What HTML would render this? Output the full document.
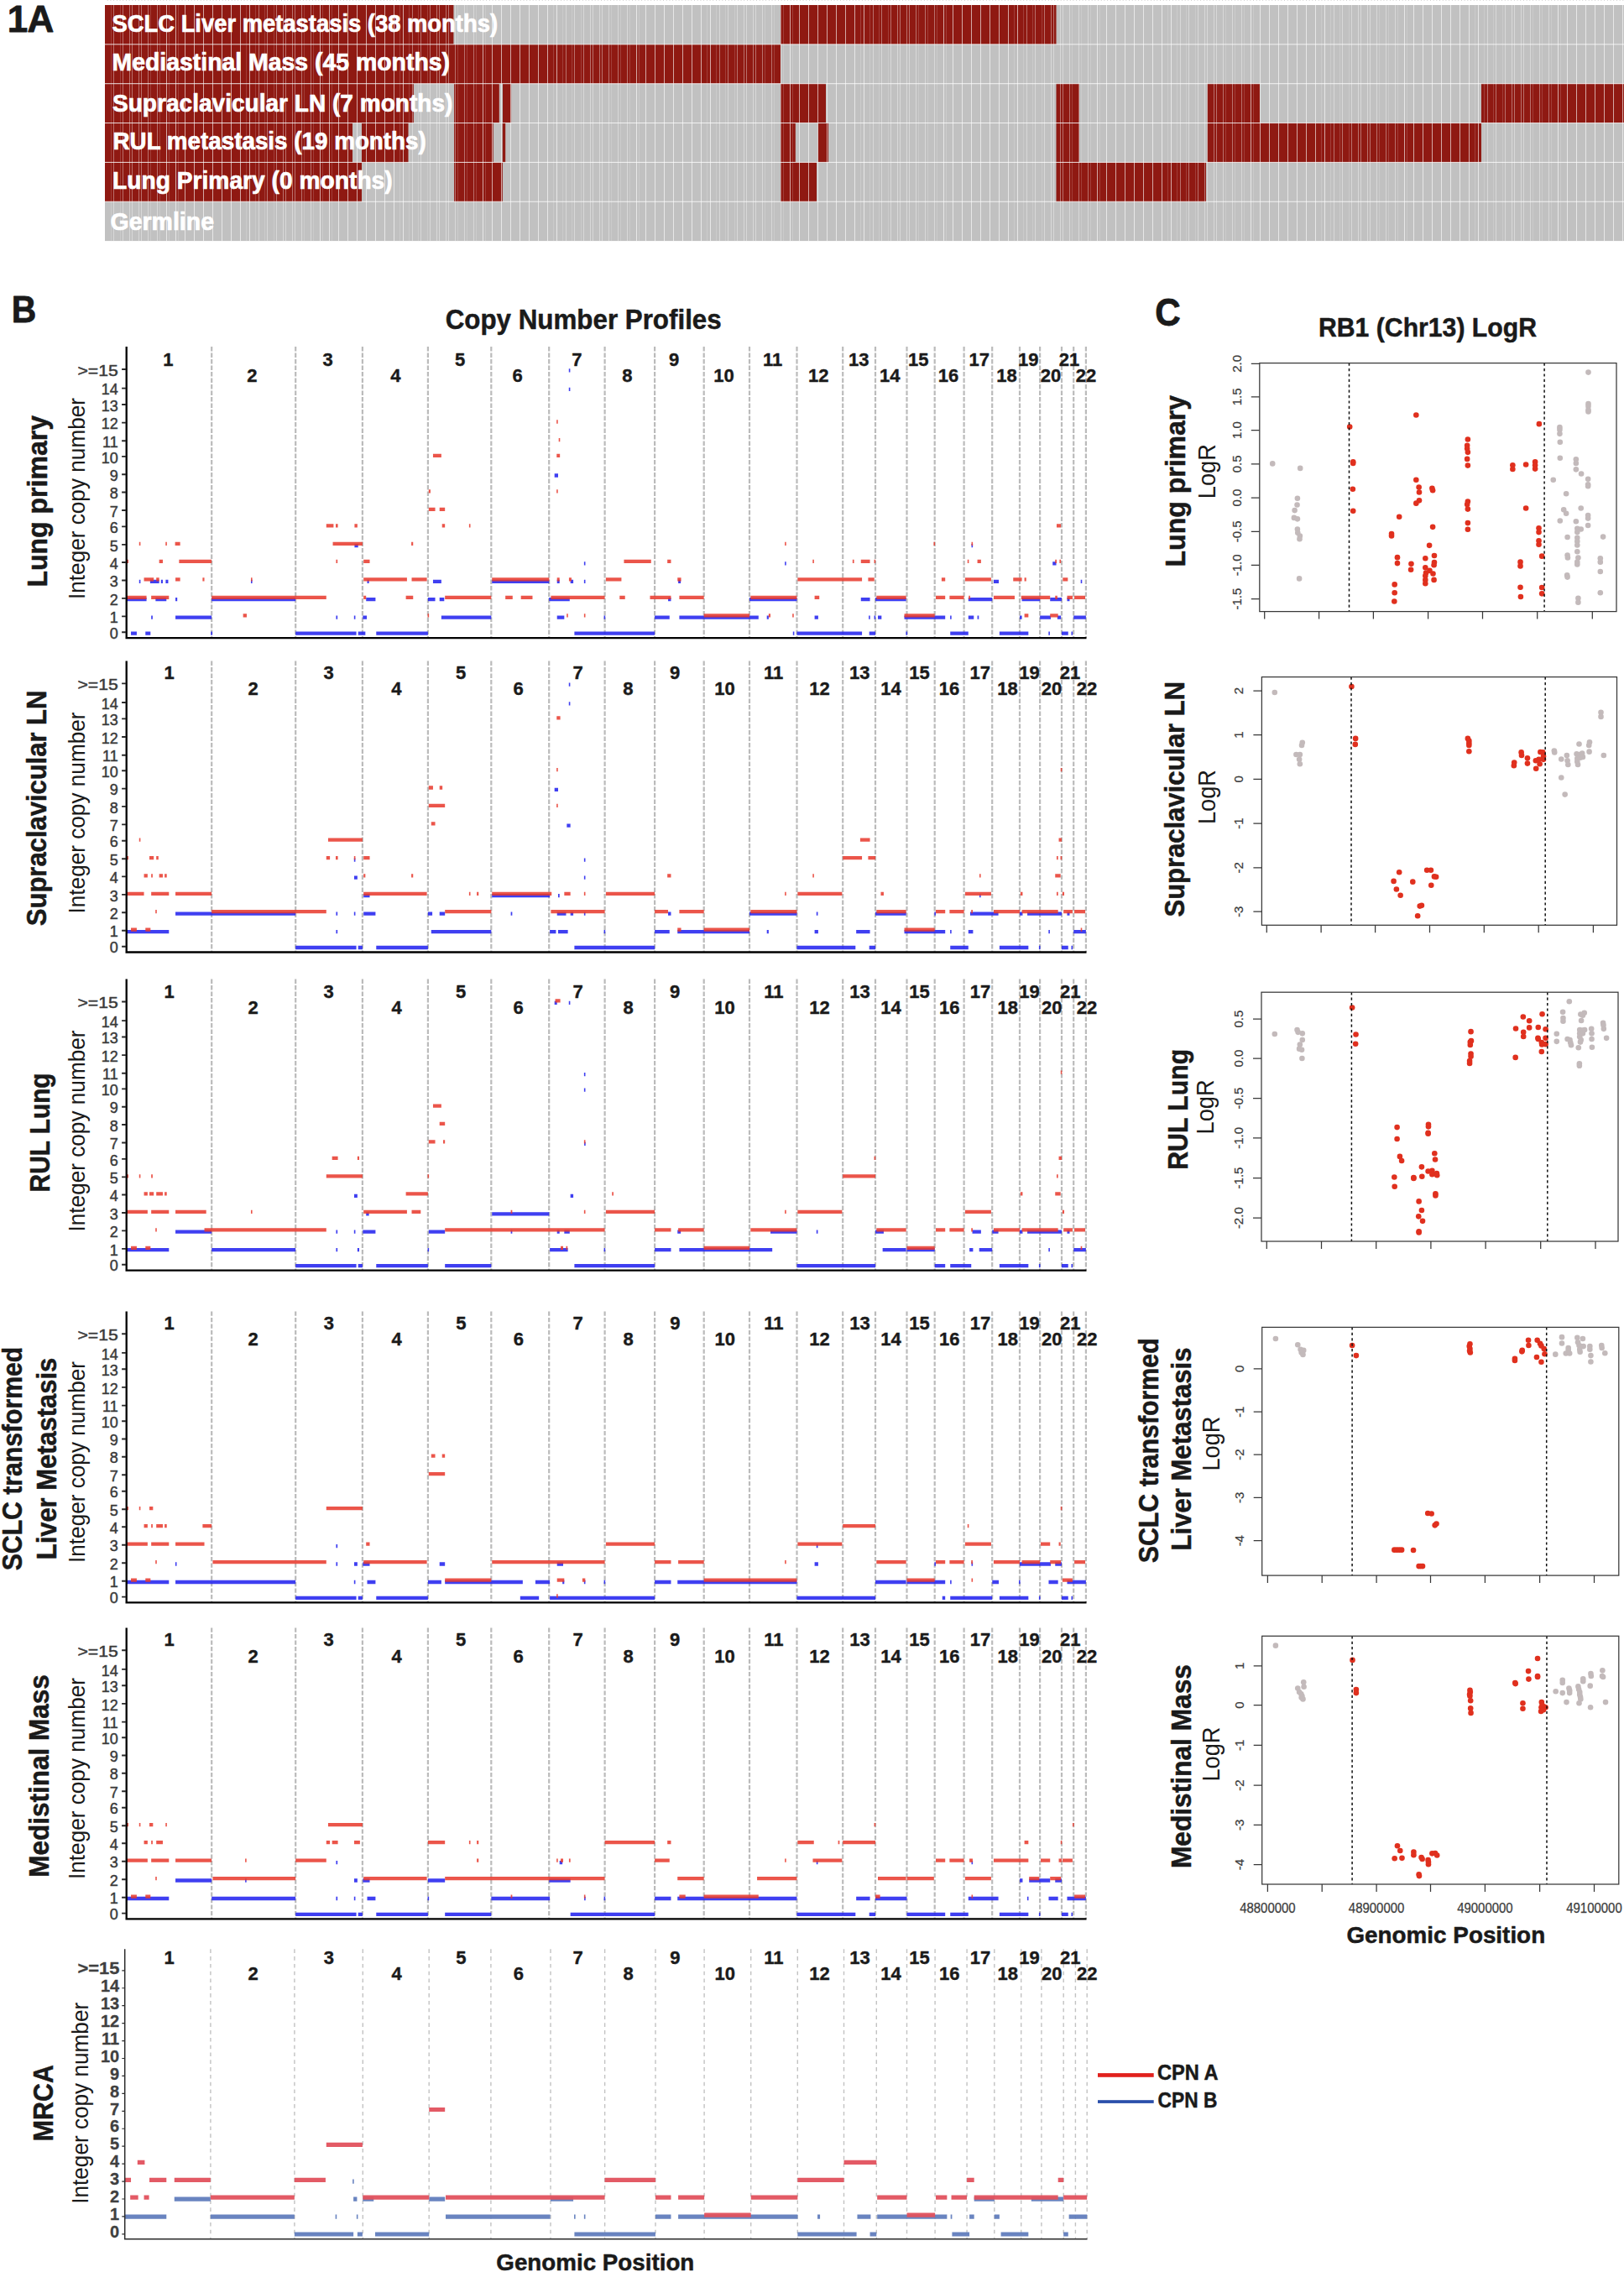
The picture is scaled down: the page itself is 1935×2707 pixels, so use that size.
<!DOCTYPE html>
<html lang="en"><head><meta charset="utf-8"><title>Figure 1</title>
<style>
html,body{margin:0;padding:0;background:#fff}
body{width:1935px;height:2707px;overflow:hidden}
svg{display:block}
text{font-family:"Liberation Sans",sans-serif}
</style></head><body>
<svg width="1935" height="2707" viewBox="0 0 1935 2707">
<defs>
<pattern id="topdots" x="125" y="0" width="3.7" height="1" patternUnits="userSpaceOnUse"><rect x="3.0" y="0" width="0.9" height="1" fill="#999" fill-opacity="0.6"/></pattern>
</defs>
<rect width="1935" height="2707" fill="#fff"/>
<rect x="125" y="6" width="1810" height="281.1" fill="#c1c1c1"/>
<rect x="125" y="6" width="415.4" height="46.85" fill="#8f1912"/>
<rect x="930" y="6" width="328.5" height="46.85" fill="#8f1912"/>
<rect x="125" y="52.85" width="805" height="46.85" fill="#8f1912"/>
<rect x="125" y="99.7" width="367.8" height="46.85" fill="#8f1912"/>
<rect x="541.1" y="99.7" width="53.7" height="46.85" fill="#8f1912"/>
<rect x="599" y="99.7" width="10.1" height="46.85" fill="#8f1912"/>
<rect x="930" y="99.7" width="54" height="46.85" fill="#8f1912"/>
<rect x="1258.5" y="99.7" width="27.5" height="46.85" fill="#8f1912"/>
<rect x="1438.6" y="99.7" width="62.4" height="46.85" fill="#8f1912"/>
<rect x="1765" y="99.7" width="170" height="46.85" fill="#8f1912"/>
<rect x="125" y="146.55" width="295" height="46.85" fill="#8f1912"/>
<rect x="431" y="146.55" width="55.5" height="46.85" fill="#8f1912"/>
<rect x="541.1" y="146.55" width="46.6" height="46.85" fill="#8f1912"/>
<rect x="598.8" y="146.55" width="3.4" height="46.85" fill="#8f1912"/>
<rect x="930" y="146.55" width="17.8" height="46.85" fill="#8f1912"/>
<rect x="974.6" y="146.55" width="12.4" height="46.85" fill="#8f1912"/>
<rect x="1258.5" y="146.55" width="27.5" height="46.85" fill="#8f1912"/>
<rect x="1438.6" y="146.55" width="326.4" height="46.85" fill="#8f1912"/>
<rect x="125" y="193.4" width="306" height="46.85" fill="#8f1912"/>
<rect x="541.1" y="193.4" width="57.7" height="46.85" fill="#8f1912"/>
<rect x="930" y="193.4" width="43" height="46.85" fill="#8f1912"/>
<rect x="1258.5" y="193.4" width="178.5" height="46.85" fill="#8f1912"/>
<path d="M198.5 6V287.1M209.5 6V287.1M220.5 6V287.1M231.5 6V287.1M242.5 6V287.1M253.5 6V287.1M264.5 6V287.1M275.5 6V287.1M286.5 6V287.1M297.5 6V287.1M381.5 6V287.1M392.5 6V287.1M403.5 6V287.1M414.5 6V287.1M425.5 6V287.1M436.5 6V287.1M447.5 6V287.1M458.5 6V287.1M469.5 6V287.1M480.5 6V287.1M575.5 6V287.1M586.5 6V287.1M597.5 6V287.1M608.5 6V287.1M619.5 6V287.1M630.5 6V287.1M641.5 6V287.1M652.5 6V287.1M663.5 6V287.1M758.5 6V287.1M769.5 6V287.1M780.5 6V287.1M791.5 6V287.1M802.5 6V287.1M813.5 6V287.1M824.5 6V287.1M835.5 6V287.1M846.5 6V287.1M941.5 6V287.1M952.5 6V287.1M963.5 6V287.1M974.5 6V287.1M985.5 6V287.1M996.5 6V287.1M1007.5 6V287.1M1018.5 6V287.1M1029.5 6V287.1M1124.5 6V287.1M1135.5 6V287.1M1146.5 6V287.1M1157.5 6V287.1M1168.5 6V287.1M1179.5 6V287.1M1190.5 6V287.1M1201.5 6V287.1M1212.5 6V287.1M1307.5 6V287.1M1318.5 6V287.1M1329.5 6V287.1M1340.5 6V287.1M1351.5 6V287.1M1362.5 6V287.1M1373.5 6V287.1M1384.5 6V287.1M1395.5 6V287.1M1490.5 6V287.1M1501.5 6V287.1M1512.5 6V287.1M1523.5 6V287.1M1534.5 6V287.1M1545.5 6V287.1M1556.5 6V287.1M1567.5 6V287.1M1578.5 6V287.1M1673.5 6V287.1M1684.5 6V287.1M1695.5 6V287.1M1706.5 6V287.1M1717.5 6V287.1M1728.5 6V287.1M1739.5 6V287.1M1750.5 6V287.1M1761.5 6V287.1M1856.5 6V287.1M1867.5 6V287.1M1878.5 6V287.1M1889.5 6V287.1M1900.5 6V287.1M1911.5 6V287.1M1922.5 6V287.1M1933.5 6V287.1" stroke="#fff" stroke-opacity="0.62" stroke-width="1" shape-rendering="crispEdges" fill="none"/>
<path d="M135.5 6V287.1M146.5 6V287.1M154.5 6V287.1M157.5 6V287.1M165.5 6V287.1M168.5 6V287.1M176.5 6V287.1M187.5 6V287.1M308.5 6V287.1M318.5 6V287.1M329.5 6V287.1M337.5 6V287.1M340.5 6V287.1M348.5 6V287.1M351.5 6V287.1M359.5 6V287.1M370.5 6V287.1M491.5 6V287.1M501.5 6V287.1M512.5 6V287.1M520.5 6V287.1M523.5 6V287.1M531.5 6V287.1M534.5 6V287.1M542.5 6V287.1M553.5 6V287.1M564.5 6V287.1M674.5 6V287.1M684.5 6V287.1M695.5 6V287.1M703.5 6V287.1M706.5 6V287.1M714.5 6V287.1M717.5 6V287.1M725.5 6V287.1M736.5 6V287.1M747.5 6V287.1M857.5 6V287.1M867.5 6V287.1M878.5 6V287.1M886.5 6V287.1M889.5 6V287.1M897.5 6V287.1M900.5 6V287.1M908.5 6V287.1M919.5 6V287.1M930.5 6V287.1M1040.5 6V287.1M1050.5 6V287.1M1061.5 6V287.1M1069.5 6V287.1M1072.5 6V287.1M1080.5 6V287.1M1083.5 6V287.1M1091.5 6V287.1M1102.5 6V287.1M1113.5 6V287.1M1223.5 6V287.1M1233.5 6V287.1M1244.5 6V287.1M1252.5 6V287.1M1255.5 6V287.1M1263.5 6V287.1M1266.5 6V287.1M1274.5 6V287.1M1285.5 6V287.1M1296.5 6V287.1M1406.5 6V287.1M1416.5 6V287.1M1427.5 6V287.1M1435.5 6V287.1M1438.5 6V287.1M1446.5 6V287.1M1449.5 6V287.1M1457.5 6V287.1M1468.5 6V287.1M1479.5 6V287.1M1589.5 6V287.1M1599.5 6V287.1M1610.5 6V287.1M1618.5 6V287.1M1621.5 6V287.1M1629.5 6V287.1M1632.5 6V287.1M1640.5 6V287.1M1651.5 6V287.1M1662.5 6V287.1M1772.5 6V287.1M1782.5 6V287.1M1793.5 6V287.1M1801.5 6V287.1M1804.5 6V287.1M1812.5 6V287.1M1815.5 6V287.1M1823.5 6V287.1M1834.5 6V287.1M1845.5 6V287.1" stroke="#fff" stroke-opacity="0.38" stroke-width="1" shape-rendering="crispEdges" fill="none"/>
<path d="M132.5 6V287.1M143.5 6V287.1M179.5 6V287.1M190.5 6V287.1M201.5 6V287.1M212.5 6V287.1M293.5 6V287.1M304.5 6V287.1M315.5 6V287.1M326.5 6V287.1M362.5 6V287.1M373.5 6V287.1M384.5 6V287.1M395.5 6V287.1M476.5 6V287.1M487.5 6V287.1M498.5 6V287.1M509.5 6V287.1M545.5 6V287.1M556.5 6V287.1M567.5 6V287.1M578.5 6V287.1M659.5 6V287.1M670.5 6V287.1M681.5 6V287.1M692.5 6V287.1M728.5 6V287.1M739.5 6V287.1M750.5 6V287.1M761.5 6V287.1M842.5 6V287.1M853.5 6V287.1M864.5 6V287.1M875.5 6V287.1M911.5 6V287.1M922.5 6V287.1M933.5 6V287.1M944.5 6V287.1M1025.5 6V287.1M1036.5 6V287.1M1047.5 6V287.1M1058.5 6V287.1M1094.5 6V287.1M1105.5 6V287.1M1116.5 6V287.1M1127.5 6V287.1M1208.5 6V287.1M1219.5 6V287.1M1230.5 6V287.1M1241.5 6V287.1M1277.5 6V287.1M1288.5 6V287.1M1299.5 6V287.1M1310.5 6V287.1M1391.5 6V287.1M1402.5 6V287.1M1413.5 6V287.1M1424.5 6V287.1M1460.5 6V287.1M1471.5 6V287.1M1482.5 6V287.1M1493.5 6V287.1M1574.5 6V287.1M1585.5 6V287.1M1596.5 6V287.1M1607.5 6V287.1M1643.5 6V287.1M1654.5 6V287.1M1665.5 6V287.1M1676.5 6V287.1M1757.5 6V287.1M1768.5 6V287.1M1779.5 6V287.1M1790.5 6V287.1M1826.5 6V287.1M1837.5 6V287.1M1848.5 6V287.1M1859.5 6V287.1" stroke="#fff" stroke-opacity="0.16" stroke-width="1" shape-rendering="crispEdges" fill="none"/>
<rect x="125" y="52.35" width="1810" height="1" fill="#fff" fill-opacity="0.8"/>
<rect x="125" y="99.2" width="1810" height="1" fill="#fff" fill-opacity="0.8"/>
<rect x="125" y="146.05" width="1810" height="1" fill="#fff" fill-opacity="0.8"/>
<rect x="125" y="192.9" width="1810" height="1" fill="#fff" fill-opacity="0.8"/>
<rect x="125" y="239.75" width="1810" height="1" fill="#fff" fill-opacity="0.8"/>
<rect x="125" y="0" width="1810" height="1" fill="url(#topdots)"/>
<text x="133.5" y="38.3" font-size="30" font-weight="bold" fill="#fff" text-anchor="start" stroke="#fff" stroke-width="0.7" stroke-linejoin="round" textLength="459.5" lengthAdjust="spacingAndGlyphs" >SCLC Liver metastasis (38 months)</text>
<text x="133.5" y="83.8" font-size="30" font-weight="bold" fill="#fff" text-anchor="start" stroke="#fff" stroke-width="0.7" stroke-linejoin="round" textLength="402.5" lengthAdjust="spacingAndGlyphs" >Mediastinal Mass (45 months)</text>
<text x="134" y="133" font-size="30" font-weight="bold" fill="#fff" text-anchor="start" stroke="#fff" stroke-width="0.7" stroke-linejoin="round" textLength="405.4" lengthAdjust="spacingAndGlyphs" >Supraclavicular LN (7 months)</text>
<text x="134.5" y="177.9" font-size="30" font-weight="bold" fill="#fff" text-anchor="start" stroke="#fff" stroke-width="0.7" stroke-linejoin="round" textLength="373.3" lengthAdjust="spacingAndGlyphs" >RUL metastasis (19 months)</text>
<text x="134" y="224.7" font-size="30" font-weight="bold" fill="#fff" text-anchor="start" stroke="#fff" stroke-width="0.7" stroke-linejoin="round" textLength="333.7" lengthAdjust="spacingAndGlyphs" >Lung Primary (0 months)</text>
<text x="131.5" y="274" font-size="30" font-weight="bold" fill="#fff" text-anchor="start" stroke="#fff" stroke-width="0.7" stroke-linejoin="round" textLength="123.5" lengthAdjust="spacingAndGlyphs" >Germline</text>
<text x="8.7" y="37.6" font-size="44" font-weight="bold" fill="#1a1a1a" stroke="#1a1a1a" stroke-width="0.8" stroke-linejoin="round">1<tspan x="32.5">A</tspan></text>
<text x="13.7" y="384.2" font-size="44.5" font-weight="bold" fill="#1a1a1a" text-anchor="start" stroke="#1a1a1a" stroke-width="0.8" stroke-linejoin="round" textLength="29.5" lengthAdjust="spacingAndGlyphs" >B</text>
<text x="695.2" y="392" font-size="33" font-weight="bold" fill="#1a1a1a" text-anchor="middle" stroke="#1a1a1a" stroke-width="0.5" stroke-linejoin="round" textLength="329" lengthAdjust="spacingAndGlyphs" >Copy Number Profiles</text>
<path d="M252.2 413.1V760.1M352.2 413.1V760.1M431.9 413.1V760.1M509.9 413.1V760.1M585.3 413.1V760.1M654.2 413.1V760.1M720.6 413.1V760.1M780.1 413.1V760.1M838.7 413.1V760.1M893 413.1V760.1M949.5 413.1V760.1M1004.2 413.1V760.1M1043 413.1V760.1M1080.5 413.1V760.1M1113.7 413.1V760.1M1148.6 413.1V760.1M1182.2 413.1V760.1M1215 413.1V760.1M1239.1 413.1V760.1M1265 413.1V760.1M1279.2 413.1V760.1M1293.9 413.1V760.1" stroke="#bbbbbb" stroke-width="2.2" stroke-dasharray="5.4 2.1" fill="none"/>
<path d="M150.43 714.2H174.57M185.34 714.2H198.28M209.05 714.2H211.21M165.79 692.8H167.39M178.88 692.8H189.66M191.81 692.8H193.97M197.41 692.8H200.43M180.17 735.7H181.9M209.05 735.7H252.16M156.03 754.6H162.93M173.28 754.6H179.31M251.29 754.6H253.02M252.16 714.2H352.16M298.98 692.8H300.58M352.16 754.6H424.57M426.72 754.6H431.9M422.41 650.2H426.72M400.43 735.7H402.16M421.83 735.7H423.43M437.5 692.8H439.66M436.21 714.2H447.41M432.33 735.7H437.07M431.9 754.6H435.34M448.28 754.6H509.91M515.95 692.8H525.86M509.91 714.2H518.53M523.71 714.2H529.31M525.86 735.7H585.34M586.21 692.8H654.31M654.22 714.2H678.79M640 692.8H654.22M663.71 692.8H666.72M679.66 692.8H683.1M695.88 692.8H697.48M663.71 735.7H672.33M719.59 735.7H721.19M684.4 754.6H720.6M677.78 441.3H679.38M677.78 463.9H679.38M660.69 566.5H665M695.88 671.3H697.48M720.6 754.6H780.09M808.1 692.8H811.12M796.03 714.2H799.48M780.09 735.7H797.76M809.4 735.7H838.71M838.71 735.7H903.79M893.02 714.2H949.48M913.71 735.7H915.86M935.11 671.3H936.71M970.6 735.7H974.91M949.48 754.6H1004.22M944.8 754.6H946.4M1025.78 714.2H1036.55M1004.22 754.6H1027.07M1035.69 754.6H1043.02M1035.11 735.7H1036.71M1041.57 735.7H1043.17M1043.02 714.2H1079.66M1046.03 735.7H1050.34M1079.5 754.6H1081.1M1077.5 735.7H1126.21M1132.09 735.7H1133.69M1132.24 754.6H1153.79M1157.52 650.2H1159.12M1153.79 714.2H1182.24M1153.79 735.7H1160.26M1164.57 735.7H1166.29M1183.97 692.8H1190M1190.86 754.6H1215M1217.59 714.2H1239.14M1215 735.7H1217.59M1215 754.6H1225.34M1254.22 671.3H1258.53M1251.21 714.2H1265M1239.14 735.7H1252.07M1259.83 735.7H1264.14M1249.33 754.6H1250.93M1271.47 714.2H1274.48M1265 754.6H1272.76M1276.48 754.6H1278.08M1287.69 692.8H1289.29M1279.22 735.7H1293.88" stroke="#2a2af0" stroke-width="4.3" stroke-opacity="0.9" fill="none"/>
<path d="M150.43 711.8H174.57M180.17 711.8H201.29M171.55 690.4H183.19M186.21 690.4H189.66M209.05 690.4H214.66M241.38 690.4H243.53M150.43 668.9H153.02M189.66 668.9H193.97M213.36 668.9H252.16M165.79 647.8H167.39M197.26 647.8H198.86M208.62 647.8H214.66M252.16 711.8H352.16M298.98 690.4H300.58M289.66 733.3H293.97M352.16 711.8H388.79M388.79 626.3H397.41M400 626.3H402.59M422.41 626.3H425.86M396.55 647.8H431.9M400.43 668.9H402.16M433.19 668.9H440.52M433.19 690.4H484.91M490.52 690.4H508.62M433.19 711.8H436.21M483.62 711.8H492.24M490.09 647.8H492.24M510.78 585.4H512.93M515.95 542.8H525.86M510.78 606.9H518.53M523.71 606.9H530.17M526.72 626.3H530.17M558.9 626.3H560.5M530.17 711.8H585.34M509.54 733.3H511.14M586.21 690.4H654.31M602.16 711.8H610.78M620.69 711.8H634.48M656.38 711.8H720.6M640 690.4H654.22M663.71 690.4H666.72M677.93 690.4H680.95M675.19 733.3H676.79M695.88 733.3H697.48M663.12 502.5H664.72M665.71 524.2H667.31M663.28 542.8H667.16M663.12 585.4H664.72M743.45 668.9H775.78M721.9 690.4H740.43M738.28 711.8H744.74M774.48 711.8H780.09M795.17 668.9H799.48M807.24 690.4H811.55M780.09 711.8H799.48M809.4 711.8H838.71M838.71 733.3H893.02M894.31 711.8H949.48M915.86 733.3H918.02M944.16 733.3H945.76M935.11 647.8H936.71M950.34 690.4H1004.22M970.6 711.8H976.21M968.29 668.9H969.89M1004.22 690.4H1027.07M1034.4 690.4H1041.72M1015.86 668.9H1017.59M1025.78 668.9H1036.55M1041.57 668.9H1043.17M1044.31 711.8H1079.66M1077.5 733.3H1113.71M1112.48 647.8H1114.08M1121.9 690.4H1126.21M1115 711.8H1126.21M1131.38 711.8H1148.62M1157.52 647.8H1159.12M1152.78 668.9H1154.38M1164.57 668.9H1168.88M1149.91 690.4H1180.95M1154.22 711.8H1155.95M1183.97 711.8H1208.97M1207.24 690.4H1215M1215 690.4H1217.59M1220.6 690.4H1222.76M1216.72 711.8H1239.14M1220.6 733.3H1225.34M1258.97 626.3H1264.14M1257.24 668.9H1258.97M1262.41 668.9H1264.14M1239.14 711.8H1251.21M1257.24 711.8H1259.83M1251.21 733.3H1260.69M1266.29 690.4H1272.33M1271.47 711.8H1277.93M1280.09 711.8H1293.02" stroke="#e8392c" stroke-width="4.3" stroke-opacity="0.86" fill="none"/>
<path d="M150.7 413.1V761.2M149.5 760.1H1294.5" stroke="#000" stroke-width="2.3" fill="none"/>
<path d="M145.1 753.3H150M145.1 734.4H150M145.1 712.9H150M145.1 691.5H150M145.1 670H150M145.1 648.9H150M145.1 627.4H150M145.1 608H150M145.1 586.5H150M145.1 565.2H150M145.1 543.9H150M145.1 525.3H150M145.1 503.6H150M145.1 482H150M145.1 462.6H150M145.1 440H150" stroke="#2a2a2a" stroke-width="1.9" fill="none"/>
<text x="140.8" y="760.9" font-size="18" font-weight="normal" fill="#3a3a3a" text-anchor="end" stroke="#3a3a3a" stroke-width="0.45">0</text>
<text x="140.8" y="742" font-size="18" font-weight="normal" fill="#3a3a3a" text-anchor="end" stroke="#3a3a3a" stroke-width="0.45">1</text>
<text x="140.8" y="720.5" font-size="18" font-weight="normal" fill="#3a3a3a" text-anchor="end" stroke="#3a3a3a" stroke-width="0.45">2</text>
<text x="140.8" y="699.1" font-size="18" font-weight="normal" fill="#3a3a3a" text-anchor="end" stroke="#3a3a3a" stroke-width="0.45">3</text>
<text x="140.8" y="677.6" font-size="18" font-weight="normal" fill="#3a3a3a" text-anchor="end" stroke="#3a3a3a" stroke-width="0.45">4</text>
<text x="140.8" y="656.5" font-size="18" font-weight="normal" fill="#3a3a3a" text-anchor="end" stroke="#3a3a3a" stroke-width="0.45">5</text>
<text x="140.8" y="635" font-size="18" font-weight="normal" fill="#3a3a3a" text-anchor="end" stroke="#3a3a3a" stroke-width="0.45">6</text>
<text x="140.8" y="615.6" font-size="18" font-weight="normal" fill="#3a3a3a" text-anchor="end" stroke="#3a3a3a" stroke-width="0.45">7</text>
<text x="140.8" y="594.1" font-size="18" font-weight="normal" fill="#3a3a3a" text-anchor="end" stroke="#3a3a3a" stroke-width="0.45">8</text>
<text x="140.8" y="572.8" font-size="18" font-weight="normal" fill="#3a3a3a" text-anchor="end" stroke="#3a3a3a" stroke-width="0.45">9</text>
<text x="140.8" y="551.5" font-size="18" font-weight="normal" fill="#3a3a3a" text-anchor="end" stroke="#3a3a3a" stroke-width="0.45">10</text>
<text x="140.8" y="532.9" font-size="18" font-weight="normal" fill="#3a3a3a" text-anchor="end" stroke="#3a3a3a" stroke-width="0.45">11</text>
<text x="140.8" y="511.2" font-size="18" font-weight="normal" fill="#3a3a3a" text-anchor="end" stroke="#3a3a3a" stroke-width="0.45">12</text>
<text x="140.8" y="489.6" font-size="18" font-weight="normal" fill="#3a3a3a" text-anchor="end" stroke="#3a3a3a" stroke-width="0.45">13</text>
<text x="140.8" y="470.2" font-size="18" font-weight="normal" fill="#3a3a3a" text-anchor="end" stroke="#3a3a3a" stroke-width="0.45">14</text>
<text x="92.5" y="447.6" font-size="18" font-weight="normal" fill="#3a3a3a" text-anchor="start" textLength="48.3" lengthAdjust="spacingAndGlyphs" stroke="#3a3a3a" stroke-width="0.45">&gt;=15</text>
<text x="200.4" y="435.6" font-size="22" font-weight="bold" fill="#1a1a1a" text-anchor="middle" stroke="#1a1a1a" stroke-width="0.4" stroke-linejoin="round" >1</text>
<text x="300.4" y="455" font-size="22" font-weight="bold" fill="#1a1a1a" text-anchor="middle" stroke="#1a1a1a" stroke-width="0.4" stroke-linejoin="round" >2</text>
<text x="390.5" y="435.6" font-size="22" font-weight="bold" fill="#1a1a1a" text-anchor="middle" stroke="#1a1a1a" stroke-width="0.4" stroke-linejoin="round" >3</text>
<text x="471.3" y="455" font-size="22" font-weight="bold" fill="#1a1a1a" text-anchor="middle" stroke="#1a1a1a" stroke-width="0.4" stroke-linejoin="round" >4</text>
<text x="548" y="435.6" font-size="22" font-weight="bold" fill="#1a1a1a" text-anchor="middle" stroke="#1a1a1a" stroke-width="0.4" stroke-linejoin="round" >5</text>
<text x="616.5" y="455" font-size="22" font-weight="bold" fill="#1a1a1a" text-anchor="middle" stroke="#1a1a1a" stroke-width="0.4" stroke-linejoin="round" >6</text>
<text x="687.4" y="435.6" font-size="22" font-weight="bold" fill="#1a1a1a" text-anchor="middle" stroke="#1a1a1a" stroke-width="0.4" stroke-linejoin="round" >7</text>
<text x="747.3" y="455" font-size="22" font-weight="bold" fill="#1a1a1a" text-anchor="middle" stroke="#1a1a1a" stroke-width="0.4" stroke-linejoin="round" >8</text>
<text x="803" y="435.6" font-size="22" font-weight="bold" fill="#1a1a1a" text-anchor="middle" stroke="#1a1a1a" stroke-width="0.4" stroke-linejoin="round" >9</text>
<text x="862.4" y="455" font-size="22" font-weight="bold" fill="#1a1a1a" text-anchor="middle" stroke="#1a1a1a" stroke-width="0.4" stroke-linejoin="round" >10</text>
<text x="920.6" y="435.6" font-size="22" font-weight="bold" fill="#1a1a1a" text-anchor="middle" stroke="#1a1a1a" stroke-width="0.4" stroke-linejoin="round" >11</text>
<text x="975.3" y="455" font-size="22" font-weight="bold" fill="#1a1a1a" text-anchor="middle" stroke="#1a1a1a" stroke-width="0.4" stroke-linejoin="round" >12</text>
<text x="1023.2" y="435.6" font-size="22" font-weight="bold" fill="#1a1a1a" text-anchor="middle" stroke="#1a1a1a" stroke-width="0.4" stroke-linejoin="round" >13</text>
<text x="1060.3" y="455" font-size="22" font-weight="bold" fill="#1a1a1a" text-anchor="middle" stroke="#1a1a1a" stroke-width="0.4" stroke-linejoin="round" >14</text>
<text x="1094.3" y="435.6" font-size="22" font-weight="bold" fill="#1a1a1a" text-anchor="middle" stroke="#1a1a1a" stroke-width="0.4" stroke-linejoin="round" >15</text>
<text x="1130" y="455" font-size="22" font-weight="bold" fill="#1a1a1a" text-anchor="middle" stroke="#1a1a1a" stroke-width="0.4" stroke-linejoin="round" >16</text>
<text x="1166.7" y="435.6" font-size="22" font-weight="bold" fill="#1a1a1a" text-anchor="middle" stroke="#1a1a1a" stroke-width="0.4" stroke-linejoin="round" >17</text>
<text x="1199.5" y="455" font-size="22" font-weight="bold" fill="#1a1a1a" text-anchor="middle" stroke="#1a1a1a" stroke-width="0.4" stroke-linejoin="round" >18</text>
<text x="1225.3" y="435.6" font-size="22" font-weight="bold" fill="#1a1a1a" text-anchor="middle" stroke="#1a1a1a" stroke-width="0.4" stroke-linejoin="round" >19</text>
<text x="1252" y="455" font-size="22" font-weight="bold" fill="#1a1a1a" text-anchor="middle" stroke="#1a1a1a" stroke-width="0.4" stroke-linejoin="round" >20</text>
<text x="1274" y="435.6" font-size="22" font-weight="bold" fill="#1a1a1a" text-anchor="middle" stroke="#1a1a1a" stroke-width="0.4" stroke-linejoin="round" >21</text>
<text x="1293.9" y="455" font-size="22" font-weight="bold" fill="#1a1a1a" text-anchor="middle" stroke="#1a1a1a" stroke-width="0.4" stroke-linejoin="round" >22</text>
<text transform="translate(55.8,597.3) rotate(-90)" font-size="32.5" font-weight="bold" fill="#1a1a1a" text-anchor="middle" stroke="#1a1a1a" stroke-width="0.5" stroke-linejoin="round" textLength="204.5" lengthAdjust="spacingAndGlyphs" >Lung primary</text>
<text transform="translate(101.1,594) rotate(-90)" font-size="27.5" font-weight="normal" fill="#1a1a1a" text-anchor="middle" textLength="240" lengthAdjust="spacingAndGlyphs" >Integer copy number</text>
<path d="M252.2 787.5V1134.5M352.2 787.5V1134.5M431.9 787.5V1134.5M509.9 787.5V1134.5M585.3 787.5V1134.5M654.2 787.5V1134.5M720.6 787.5V1134.5M780.1 787.5V1134.5M838.7 787.5V1134.5M893 787.5V1134.5M949.5 787.5V1134.5M1004.2 787.5V1134.5M1043 787.5V1134.5M1080.5 787.5V1134.5M1113.7 787.5V1134.5M1148.6 787.5V1134.5M1182.2 787.5V1134.5M1215 787.5V1134.5M1239.1 787.5V1134.5M1265 787.5V1134.5M1279.2 787.5V1134.5M1293.9 787.5V1134.5" stroke="#bbbbbb" stroke-width="2.2" stroke-dasharray="5.4 2.1" fill="none"/>
<path d="M209.05 1088.6H252.16M150.43 1110.1H201.29M252.16 1088.6H352.16M352.16 1129H424.57M426.72 1129H431.9M421.83 1024.6H423.43M421.98 1045.7H425.86M400.43 1088.6H402.16M421.83 1088.6H423.43M400.43 1110.1H402.16M433.19 1067.2H440.52M433.19 1088.6H447.41M448.28 1129H509.91M509.91 1088.6H515.09M523.71 1088.6H530.17M513.79 1110.1H585.34M586.21 1067.2H654.31M608.62 1088.6H610.34M677.78 815.7H679.38M677.78 838.3H679.38M660.69 940.9H665M675.34 983.7H679.66M695.88 1024.6H697.48M695.88 1045.7H697.48M640 1067.2H655.09M665 1067.2H666.72M663.71 1088.6H674.48M679.66 1088.6H683.1M695.88 1088.6H697.48M655.09 1110.1H662.41M665 1110.1H676.64M719.59 1110.1H721.19M684.4 1129H720.6M720.6 1129H780.09M796.03 1088.6H799.48M780.09 1110.1H797.76M807.24 1110.1H838.71M838.71 1110.1H893.02M893.02 1088.6H949.48M913.71 1110.1H915.86M972.76 1088.6H974.48M970.6 1110.1H974.91M949.48 1129H1004.22M1020.17 1110.1H1036.55M1004.22 1129H1019.31M1035.69 1129H1043.02M1043.02 1088.6H1079.66M1077.5 1110.1H1113.71M1113.34 1088.6H1114.94M1113.71 1110.1H1126.21M1132.09 1110.1H1133.69M1132.24 1129H1153.79M1167 1067.2H1168.6M1155.95 1088.6H1189.57M1153.79 1110.1H1159.4M1190.86 1129H1215M1215 1088.6H1218.45M1224.05 1088.6H1239.14M1215 1129H1225.34M1239.14 1088.6H1265M1249.33 1110.1H1250.93M1237.91 1129H1239.51M1271.47 1088.6H1274.48M1265 1129H1272.76M1276.48 1129H1278.08M1279.22 1110.1H1293.88" stroke="#2a2af0" stroke-width="4.3" stroke-opacity="0.9" fill="none"/>
<path d="M150.43 1064.8H171.55M180.17 1064.8H201.29M209.05 1064.8H252.16M156.03 1107.7H162.93M173.28 1107.7H179.31M171.55 1043.3H175.86M180.17 1043.3H181.9M189.66 1043.3H193.97M196.12 1043.3H198.71M150.43 1022.2H153.02M178.02 1022.2H183.19M186.21 1022.2H188.79M165.79 1000.7H167.39M185.19 1086.2H186.79M252.16 1086.2H352.16M352.16 1086.2H388.79M390.95 1000.7H431.9M388.79 1022.2H393.1M400 1022.2H402.59M421.83 1022.2H423.43M433.19 1022.2H440.52M433.19 1043.3H435.34M490.09 1043.3H492.24M433.19 1064.8H508.62M510.78 938.5H515.95M523.71 938.5H527.16M510.78 959.8H530.17M513.79 981.3H518.53M558.9 1064.8H560.5M568.1 1064.8H570.26M530.17 1086.2H585.34M586.21 1064.8H654.31M663.28 855.3H667.59M663.12 917.2H664.72M663.12 959.8H664.72M640 1064.8H657.24M672.33 1064.8H679.66M695.88 1064.8H697.48M656.38 1086.2H720.6M721.9 1064.8H780.09M795.17 1043.3H799.48M780.09 1086.2H796.03M809.4 1086.2H838.71M807.24 1107.7H811.55M838.71 1107.7H893.02M894.31 1086.2H949.48M935.11 1064.8H936.71M950.34 1064.8H1003.36M968.29 1043.3H969.89M1024.91 1000.7H1036.55M1004.22 1022.2H1027.07M1034.4 1022.2H1043.02M1049.48 1064.8H1052.93M1044.31 1086.2H1079.66M1077.5 1107.7H1113.71M1115 1086.2H1126.21M1131.38 1086.2H1148.62M1167 1043.3H1168.6M1149.91 1064.8H1180.95M1157.24 1086.2H1158.97M1183.97 1086.2H1215M1215.86 1064.8H1218.45M1217.59 1086.2H1239.14M1263.77 917.2H1265.37M1261.55 1000.7H1265M1258.97 1022.2H1260.69M1263.55 1022.2H1265.15M1257.24 1043.3H1263.71M1258.97 1064.8H1260.69M1265.86 1064.8H1268.02M1239.14 1086.2H1260.69M1267.16 1086.2H1277.93M1280.09 1086.2H1293.02M1287.69 1107.7H1289.29" stroke="#e8392c" stroke-width="4.3" stroke-opacity="0.86" fill="none"/>
<path d="M150.7 787.5V1135.6M149.5 1134.5H1294.5" stroke="#000" stroke-width="2.3" fill="none"/>
<path d="M145.1 1127.7H150M145.1 1108.8H150M145.1 1087.3H150M145.1 1065.9H150M145.1 1044.4H150M145.1 1023.3H150M145.1 1001.8H150M145.1 982.4H150M145.1 960.9H150M145.1 939.6H150M145.1 918.3H150M145.1 899.7H150M145.1 878H150M145.1 856.4H150M145.1 837H150M145.1 814.4H150" stroke="#2a2a2a" stroke-width="1.9" fill="none"/>
<text x="140.8" y="1135.3" font-size="18" font-weight="normal" fill="#3a3a3a" text-anchor="end" stroke="#3a3a3a" stroke-width="0.45">0</text>
<text x="140.8" y="1116.4" font-size="18" font-weight="normal" fill="#3a3a3a" text-anchor="end" stroke="#3a3a3a" stroke-width="0.45">1</text>
<text x="140.8" y="1094.9" font-size="18" font-weight="normal" fill="#3a3a3a" text-anchor="end" stroke="#3a3a3a" stroke-width="0.45">2</text>
<text x="140.8" y="1073.5" font-size="18" font-weight="normal" fill="#3a3a3a" text-anchor="end" stroke="#3a3a3a" stroke-width="0.45">3</text>
<text x="140.8" y="1052" font-size="18" font-weight="normal" fill="#3a3a3a" text-anchor="end" stroke="#3a3a3a" stroke-width="0.45">4</text>
<text x="140.8" y="1030.9" font-size="18" font-weight="normal" fill="#3a3a3a" text-anchor="end" stroke="#3a3a3a" stroke-width="0.45">5</text>
<text x="140.8" y="1009.4" font-size="18" font-weight="normal" fill="#3a3a3a" text-anchor="end" stroke="#3a3a3a" stroke-width="0.45">6</text>
<text x="140.8" y="990" font-size="18" font-weight="normal" fill="#3a3a3a" text-anchor="end" stroke="#3a3a3a" stroke-width="0.45">7</text>
<text x="140.8" y="968.5" font-size="18" font-weight="normal" fill="#3a3a3a" text-anchor="end" stroke="#3a3a3a" stroke-width="0.45">8</text>
<text x="140.8" y="947.2" font-size="18" font-weight="normal" fill="#3a3a3a" text-anchor="end" stroke="#3a3a3a" stroke-width="0.45">9</text>
<text x="140.8" y="925.9" font-size="18" font-weight="normal" fill="#3a3a3a" text-anchor="end" stroke="#3a3a3a" stroke-width="0.45">10</text>
<text x="140.8" y="907.3" font-size="18" font-weight="normal" fill="#3a3a3a" text-anchor="end" stroke="#3a3a3a" stroke-width="0.45">11</text>
<text x="140.8" y="885.6" font-size="18" font-weight="normal" fill="#3a3a3a" text-anchor="end" stroke="#3a3a3a" stroke-width="0.45">12</text>
<text x="140.8" y="864" font-size="18" font-weight="normal" fill="#3a3a3a" text-anchor="end" stroke="#3a3a3a" stroke-width="0.45">13</text>
<text x="140.8" y="844.6" font-size="18" font-weight="normal" fill="#3a3a3a" text-anchor="end" stroke="#3a3a3a" stroke-width="0.45">14</text>
<text x="92.5" y="822" font-size="18" font-weight="normal" fill="#3a3a3a" text-anchor="start" textLength="48.3" lengthAdjust="spacingAndGlyphs" stroke="#3a3a3a" stroke-width="0.45">&gt;=15</text>
<text x="201.5" y="809.1" font-size="22" font-weight="bold" fill="#1a1a1a" text-anchor="middle" stroke="#1a1a1a" stroke-width="0.4" stroke-linejoin="round" >1</text>
<text x="301.5" y="828.3" font-size="22" font-weight="bold" fill="#1a1a1a" text-anchor="middle" stroke="#1a1a1a" stroke-width="0.4" stroke-linejoin="round" >2</text>
<text x="391.6" y="809.1" font-size="22" font-weight="bold" fill="#1a1a1a" text-anchor="middle" stroke="#1a1a1a" stroke-width="0.4" stroke-linejoin="round" >3</text>
<text x="472.4" y="828.3" font-size="22" font-weight="bold" fill="#1a1a1a" text-anchor="middle" stroke="#1a1a1a" stroke-width="0.4" stroke-linejoin="round" >4</text>
<text x="549.1" y="809.1" font-size="22" font-weight="bold" fill="#1a1a1a" text-anchor="middle" stroke="#1a1a1a" stroke-width="0.4" stroke-linejoin="round" >5</text>
<text x="617.6" y="828.3" font-size="22" font-weight="bold" fill="#1a1a1a" text-anchor="middle" stroke="#1a1a1a" stroke-width="0.4" stroke-linejoin="round" >6</text>
<text x="688.5" y="809.1" font-size="22" font-weight="bold" fill="#1a1a1a" text-anchor="middle" stroke="#1a1a1a" stroke-width="0.4" stroke-linejoin="round" >7</text>
<text x="748.4" y="828.3" font-size="22" font-weight="bold" fill="#1a1a1a" text-anchor="middle" stroke="#1a1a1a" stroke-width="0.4" stroke-linejoin="round" >8</text>
<text x="804.1" y="809.1" font-size="22" font-weight="bold" fill="#1a1a1a" text-anchor="middle" stroke="#1a1a1a" stroke-width="0.4" stroke-linejoin="round" >9</text>
<text x="863.5" y="828.3" font-size="22" font-weight="bold" fill="#1a1a1a" text-anchor="middle" stroke="#1a1a1a" stroke-width="0.4" stroke-linejoin="round" >10</text>
<text x="921.7" y="809.1" font-size="22" font-weight="bold" fill="#1a1a1a" text-anchor="middle" stroke="#1a1a1a" stroke-width="0.4" stroke-linejoin="round" >11</text>
<text x="976.4" y="828.3" font-size="22" font-weight="bold" fill="#1a1a1a" text-anchor="middle" stroke="#1a1a1a" stroke-width="0.4" stroke-linejoin="round" >12</text>
<text x="1024.3" y="809.1" font-size="22" font-weight="bold" fill="#1a1a1a" text-anchor="middle" stroke="#1a1a1a" stroke-width="0.4" stroke-linejoin="round" >13</text>
<text x="1061.4" y="828.3" font-size="22" font-weight="bold" fill="#1a1a1a" text-anchor="middle" stroke="#1a1a1a" stroke-width="0.4" stroke-linejoin="round" >14</text>
<text x="1095.4" y="809.1" font-size="22" font-weight="bold" fill="#1a1a1a" text-anchor="middle" stroke="#1a1a1a" stroke-width="0.4" stroke-linejoin="round" >15</text>
<text x="1131.1" y="828.3" font-size="22" font-weight="bold" fill="#1a1a1a" text-anchor="middle" stroke="#1a1a1a" stroke-width="0.4" stroke-linejoin="round" >16</text>
<text x="1167.8" y="809.1" font-size="22" font-weight="bold" fill="#1a1a1a" text-anchor="middle" stroke="#1a1a1a" stroke-width="0.4" stroke-linejoin="round" >17</text>
<text x="1200.6" y="828.3" font-size="22" font-weight="bold" fill="#1a1a1a" text-anchor="middle" stroke="#1a1a1a" stroke-width="0.4" stroke-linejoin="round" >18</text>
<text x="1226.4" y="809.1" font-size="22" font-weight="bold" fill="#1a1a1a" text-anchor="middle" stroke="#1a1a1a" stroke-width="0.4" stroke-linejoin="round" >19</text>
<text x="1253.1" y="828.3" font-size="22" font-weight="bold" fill="#1a1a1a" text-anchor="middle" stroke="#1a1a1a" stroke-width="0.4" stroke-linejoin="round" >20</text>
<text x="1275.1" y="809.1" font-size="22" font-weight="bold" fill="#1a1a1a" text-anchor="middle" stroke="#1a1a1a" stroke-width="0.4" stroke-linejoin="round" >21</text>
<text x="1295" y="828.3" font-size="22" font-weight="bold" fill="#1a1a1a" text-anchor="middle" stroke="#1a1a1a" stroke-width="0.4" stroke-linejoin="round" >22</text>
<text transform="translate(54.8,962.9) rotate(-90)" font-size="32.5" font-weight="bold" fill="#1a1a1a" text-anchor="middle" stroke="#1a1a1a" stroke-width="0.5" stroke-linejoin="round" textLength="280.5" lengthAdjust="spacingAndGlyphs" >Supraclavicular LN</text>
<text transform="translate(101.1,968.5) rotate(-90)" font-size="27.5" font-weight="normal" fill="#1a1a1a" text-anchor="middle" textLength="240" lengthAdjust="spacingAndGlyphs" >Integer copy number</text>
<path d="M252.2 1166.6V1513.6M352.2 1166.6V1513.6M431.9 1166.6V1513.6M509.9 1166.6V1513.6M585.3 1166.6V1513.6M654.2 1166.6V1513.6M720.6 1166.6V1513.6M780.1 1166.6V1513.6M838.7 1166.6V1513.6M893 1166.6V1513.6M949.5 1166.6V1513.6M1004.2 1166.6V1513.6M1043 1166.6V1513.6M1080.5 1166.6V1513.6M1113.7 1166.6V1513.6M1148.6 1166.6V1513.6M1182.2 1166.6V1513.6M1215 1166.6V1513.6M1239.1 1166.6V1513.6M1265 1166.6V1513.6M1279.2 1166.6V1513.6M1293.9 1166.6V1513.6" stroke="#bbbbbb" stroke-width="2.2" stroke-dasharray="5.4 2.1" fill="none"/>
<path d="M209.05 1467.7H252.16M150.43 1489.2H201.29M252.16 1489.2H352.16M352.16 1508.1H424.57M426.72 1508.1H431.9M421.98 1424.8H425.86M400.43 1467.7H402.16M421.83 1467.7H423.43M400.43 1489.2H402.16M425.86 1489.2H428.02M436.21 1446.3H439.66M432.33 1467.7H447.41M448.28 1508.1H509.91M510.78 1467.7H530.17M530.17 1508.1H585.34M509.54 1489.2H511.14M586.21 1446.3H654.31M608.62 1467.7H610.34M660.69 1194.8H663.71M677.78 1194.8H679.38M695.88 1280.1H697.48M695.88 1298.7H697.48M696.1 1362.8H697.7M679.66 1424.8H683.1M640 1446.3H654.22M663.71 1467.7H666.72M672.33 1467.7H678.79M655.09 1489.2H676.64M719.59 1489.2H721.19M684.4 1508.1H720.6M720.6 1508.1H780.09M807.24 1467.7H811.12M780.09 1489.2H799.48M809.4 1489.2H838.71M838.71 1489.2H893.02M918.02 1467.7H949.48M893.02 1489.2H920.17M972.76 1467.7H974.48M949.48 1508.1H1004.22M1004.22 1508.1H1043.02M1043.02 1467.7H1052.93M1051.64 1489.2H1079.66M1080.52 1489.2H1113.71M1113.71 1508.1H1126.21M1132.24 1508.1H1157.24M1158.53 1467.7H1168.88M1155.09 1489.2H1159.4M1166.72 1489.2H1182.24M1182.24 1467.7H1189.57M1190.86 1508.1H1215M1215 1467.7H1218.45M1224.05 1467.7H1239.14M1215 1508.1H1225.34M1239.14 1467.7H1265M1249.33 1489.2H1250.93M1237.91 1508.1H1239.51M1271.47 1467.7H1274.48M1265 1508.1H1272.76M1276.48 1508.1H1278.08M1279.22 1489.2H1293.88" stroke="#2a2af0" stroke-width="4.3" stroke-opacity="0.9" fill="none"/>
<path d="M150.43 1401.3H153.02M165.79 1401.3H167.39M180.17 1401.3H181.9M171.55 1422.4H175.86M178.02 1422.4H183.19M186.21 1422.4H193.97M196.12 1422.4H198.71M150.43 1443.9H175.86M180.17 1443.9H201.29M209.05 1443.9H245.69M185.19 1465.3H186.79M243.53 1465.3H252.16M156.03 1486.8H162.93M173.28 1486.8H179.31M252.16 1465.3H352.16M298.98 1443.9H300.58M352.16 1465.3H388.79M395.69 1379.8H402.59M425.86 1379.8H428.02M388.79 1401.3H431.9M433.19 1443.9H484.91M490.52 1443.9H501.29M483.62 1422.4H509.91M515.95 1317.6H525.86M523.71 1338.9H530.17M510.78 1360.4H518.53M528.02 1360.4H530.17M509.54 1401.3H511.14M530.17 1465.3H585.34M608.62 1443.9H610.34M585.34 1465.3H654.31M661.55 1192.4H667.59M695.88 1360.4H697.48M695.88 1443.9H697.48M640 1465.3H720.6M668.02 1486.8H671.03M674.48 1486.8H676.21M729.22 1422.4H730.95M721.9 1443.9H780.09M780.09 1465.3H799.48M808.1 1465.3H838.71M838.71 1486.8H893.02M894.31 1465.3H949.48M935.11 1443.9H936.71M950.34 1443.9H1003.36M1004.22 1401.3H1043.02M1041.57 1379.8H1043.17M1044.31 1465.3H1079.66M1080.52 1486.8H1113.71M1115 1465.3H1126.21M1131.38 1465.3H1148.62M1149.91 1443.9H1180.95M1157.24 1465.3H1158.97M1183.97 1465.3H1215M1215.86 1422.4H1218.45M1217.59 1465.3H1239.14M1263.77 1277.7H1265.37M1261.55 1379.8H1265M1258.97 1401.3H1260.69M1257.24 1422.4H1263.71M1265.86 1443.9H1268.02M1239.14 1465.3H1260.69M1267.16 1465.3H1277.93M1280.09 1465.3H1293.02M1287.69 1486.8H1289.29" stroke="#e8392c" stroke-width="4.3" stroke-opacity="0.86" fill="none"/>
<path d="M150.7 1166.6V1514.7M149.5 1513.6H1294.5" stroke="#000" stroke-width="2.3" fill="none"/>
<path d="M145.1 1506.8H150M145.1 1487.9H150M145.1 1466.4H150M145.1 1445H150M145.1 1423.5H150M145.1 1402.4H150M145.1 1380.9H150M145.1 1361.5H150M145.1 1340H150M145.1 1318.7H150M145.1 1297.4H150M145.1 1278.8H150M145.1 1257.1H150M145.1 1235.5H150M145.1 1216.1H150M145.1 1193.5H150" stroke="#2a2a2a" stroke-width="1.9" fill="none"/>
<text x="140.8" y="1514.4" font-size="18" font-weight="normal" fill="#3a3a3a" text-anchor="end" stroke="#3a3a3a" stroke-width="0.45">0</text>
<text x="140.8" y="1495.5" font-size="18" font-weight="normal" fill="#3a3a3a" text-anchor="end" stroke="#3a3a3a" stroke-width="0.45">1</text>
<text x="140.8" y="1474" font-size="18" font-weight="normal" fill="#3a3a3a" text-anchor="end" stroke="#3a3a3a" stroke-width="0.45">2</text>
<text x="140.8" y="1452.6" font-size="18" font-weight="normal" fill="#3a3a3a" text-anchor="end" stroke="#3a3a3a" stroke-width="0.45">3</text>
<text x="140.8" y="1431.1" font-size="18" font-weight="normal" fill="#3a3a3a" text-anchor="end" stroke="#3a3a3a" stroke-width="0.45">4</text>
<text x="140.8" y="1410" font-size="18" font-weight="normal" fill="#3a3a3a" text-anchor="end" stroke="#3a3a3a" stroke-width="0.45">5</text>
<text x="140.8" y="1388.5" font-size="18" font-weight="normal" fill="#3a3a3a" text-anchor="end" stroke="#3a3a3a" stroke-width="0.45">6</text>
<text x="140.8" y="1369.1" font-size="18" font-weight="normal" fill="#3a3a3a" text-anchor="end" stroke="#3a3a3a" stroke-width="0.45">7</text>
<text x="140.8" y="1347.6" font-size="18" font-weight="normal" fill="#3a3a3a" text-anchor="end" stroke="#3a3a3a" stroke-width="0.45">8</text>
<text x="140.8" y="1326.3" font-size="18" font-weight="normal" fill="#3a3a3a" text-anchor="end" stroke="#3a3a3a" stroke-width="0.45">9</text>
<text x="140.8" y="1305" font-size="18" font-weight="normal" fill="#3a3a3a" text-anchor="end" stroke="#3a3a3a" stroke-width="0.45">10</text>
<text x="140.8" y="1286.4" font-size="18" font-weight="normal" fill="#3a3a3a" text-anchor="end" stroke="#3a3a3a" stroke-width="0.45">11</text>
<text x="140.8" y="1264.7" font-size="18" font-weight="normal" fill="#3a3a3a" text-anchor="end" stroke="#3a3a3a" stroke-width="0.45">12</text>
<text x="140.8" y="1243.1" font-size="18" font-weight="normal" fill="#3a3a3a" text-anchor="end" stroke="#3a3a3a" stroke-width="0.45">13</text>
<text x="140.8" y="1223.7" font-size="18" font-weight="normal" fill="#3a3a3a" text-anchor="end" stroke="#3a3a3a" stroke-width="0.45">14</text>
<text x="92.5" y="1201.1" font-size="18" font-weight="normal" fill="#3a3a3a" text-anchor="start" textLength="48.3" lengthAdjust="spacingAndGlyphs" stroke="#3a3a3a" stroke-width="0.45">&gt;=15</text>
<text x="201.6" y="1188.5" font-size="22" font-weight="bold" fill="#1a1a1a" text-anchor="middle" stroke="#1a1a1a" stroke-width="0.4" stroke-linejoin="round" >1</text>
<text x="301.6" y="1208" font-size="22" font-weight="bold" fill="#1a1a1a" text-anchor="middle" stroke="#1a1a1a" stroke-width="0.4" stroke-linejoin="round" >2</text>
<text x="391.7" y="1188.5" font-size="22" font-weight="bold" fill="#1a1a1a" text-anchor="middle" stroke="#1a1a1a" stroke-width="0.4" stroke-linejoin="round" >3</text>
<text x="472.5" y="1208" font-size="22" font-weight="bold" fill="#1a1a1a" text-anchor="middle" stroke="#1a1a1a" stroke-width="0.4" stroke-linejoin="round" >4</text>
<text x="549.2" y="1188.5" font-size="22" font-weight="bold" fill="#1a1a1a" text-anchor="middle" stroke="#1a1a1a" stroke-width="0.4" stroke-linejoin="round" >5</text>
<text x="617.7" y="1208" font-size="22" font-weight="bold" fill="#1a1a1a" text-anchor="middle" stroke="#1a1a1a" stroke-width="0.4" stroke-linejoin="round" >6</text>
<text x="688.6" y="1188.5" font-size="22" font-weight="bold" fill="#1a1a1a" text-anchor="middle" stroke="#1a1a1a" stroke-width="0.4" stroke-linejoin="round" >7</text>
<text x="748.5" y="1208" font-size="22" font-weight="bold" fill="#1a1a1a" text-anchor="middle" stroke="#1a1a1a" stroke-width="0.4" stroke-linejoin="round" >8</text>
<text x="804.2" y="1188.5" font-size="22" font-weight="bold" fill="#1a1a1a" text-anchor="middle" stroke="#1a1a1a" stroke-width="0.4" stroke-linejoin="round" >9</text>
<text x="863.6" y="1208" font-size="22" font-weight="bold" fill="#1a1a1a" text-anchor="middle" stroke="#1a1a1a" stroke-width="0.4" stroke-linejoin="round" >10</text>
<text x="921.8" y="1188.5" font-size="22" font-weight="bold" fill="#1a1a1a" text-anchor="middle" stroke="#1a1a1a" stroke-width="0.4" stroke-linejoin="round" >11</text>
<text x="976.5" y="1208" font-size="22" font-weight="bold" fill="#1a1a1a" text-anchor="middle" stroke="#1a1a1a" stroke-width="0.4" stroke-linejoin="round" >12</text>
<text x="1024.4" y="1188.5" font-size="22" font-weight="bold" fill="#1a1a1a" text-anchor="middle" stroke="#1a1a1a" stroke-width="0.4" stroke-linejoin="round" >13</text>
<text x="1061.5" y="1208" font-size="22" font-weight="bold" fill="#1a1a1a" text-anchor="middle" stroke="#1a1a1a" stroke-width="0.4" stroke-linejoin="round" >14</text>
<text x="1095.5" y="1188.5" font-size="22" font-weight="bold" fill="#1a1a1a" text-anchor="middle" stroke="#1a1a1a" stroke-width="0.4" stroke-linejoin="round" >15</text>
<text x="1131.2" y="1208" font-size="22" font-weight="bold" fill="#1a1a1a" text-anchor="middle" stroke="#1a1a1a" stroke-width="0.4" stroke-linejoin="round" >16</text>
<text x="1167.9" y="1188.5" font-size="22" font-weight="bold" fill="#1a1a1a" text-anchor="middle" stroke="#1a1a1a" stroke-width="0.4" stroke-linejoin="round" >17</text>
<text x="1200.7" y="1208" font-size="22" font-weight="bold" fill="#1a1a1a" text-anchor="middle" stroke="#1a1a1a" stroke-width="0.4" stroke-linejoin="round" >18</text>
<text x="1226.5" y="1188.5" font-size="22" font-weight="bold" fill="#1a1a1a" text-anchor="middle" stroke="#1a1a1a" stroke-width="0.4" stroke-linejoin="round" >19</text>
<text x="1253.2" y="1208" font-size="22" font-weight="bold" fill="#1a1a1a" text-anchor="middle" stroke="#1a1a1a" stroke-width="0.4" stroke-linejoin="round" >20</text>
<text x="1275.2" y="1188.5" font-size="22" font-weight="bold" fill="#1a1a1a" text-anchor="middle" stroke="#1a1a1a" stroke-width="0.4" stroke-linejoin="round" >21</text>
<text x="1295.1" y="1208" font-size="22" font-weight="bold" fill="#1a1a1a" text-anchor="middle" stroke="#1a1a1a" stroke-width="0.4" stroke-linejoin="round" >22</text>
<text transform="translate(58.8,1349.4) rotate(-90)" font-size="32.5" font-weight="bold" fill="#1a1a1a" text-anchor="middle" stroke="#1a1a1a" stroke-width="0.5" stroke-linejoin="round" textLength="142" lengthAdjust="spacingAndGlyphs" >RUL Lung</text>
<text transform="translate(101.1,1347.5) rotate(-90)" font-size="27.5" font-weight="normal" fill="#1a1a1a" text-anchor="middle" textLength="240" lengthAdjust="spacingAndGlyphs" >Integer copy number</text>
<path d="M252.2 1562.4V1909.4M352.2 1562.4V1909.4M431.9 1562.4V1909.4M509.9 1562.4V1909.4M585.3 1562.4V1909.4M654.2 1562.4V1909.4M720.6 1562.4V1909.4M780.1 1562.4V1909.4M838.7 1562.4V1909.4M893 1562.4V1909.4M949.5 1562.4V1909.4M1004.2 1562.4V1909.4M1043 1562.4V1909.4M1080.5 1562.4V1909.4M1113.7 1562.4V1909.4M1148.6 1562.4V1909.4M1182.2 1562.4V1909.4M1215 1562.4V1909.4M1239.1 1562.4V1909.4M1265 1562.4V1909.4M1279.2 1562.4V1909.4M1293.9 1562.4V1909.4" stroke="#bbbbbb" stroke-width="2.2" stroke-dasharray="5.4 2.1" fill="none"/>
<path d="M208.9 1863.5H210.5M150.43 1885H201.29M209.05 1885H252.16M252.16 1885H352.16M400.43 1842.1H402.16M400.43 1863.5H402.16M421.98 1863.5H425.86M421.83 1885H423.43M352.16 1903.9H424.57M426.72 1903.9H431.9M432.33 1863.5H440.52M437.5 1885H447.41M448.28 1903.9H509.91M523.71 1863.5H530.17M509.91 1885H525.86M530.17 1885H585.34M585.34 1885H622.84M637.93 1885H654.31M619.83 1903.9H641.38M640 1885H655.09M640 1903.9H642.16M663.71 1863.5H671.03M670.17 1885H672.33M695.88 1885H697.48M719.59 1885H721.19M655.09 1903.9H720.6M720.6 1903.9H780.09M780.09 1885H799.48M807.24 1885H838.71M838.71 1885H893.02M893.02 1885H949.48M972.76 1842.1H974.48M970.6 1863.5H974.91M949.48 1903.9H1004.22M1004.22 1903.9H1043.02M1043.02 1885H1079.66M1080.52 1885H1113.71M1113.34 1863.5H1114.94M1113.71 1885H1126.21M1132.09 1885H1133.69M1122.76 1903.9H1126.21M1132.24 1903.9H1148.62M1157.52 1863.5H1159.12M1148.62 1903.9H1182.24M1182.24 1885H1190M1213.98 1885H1215.58M1190.86 1903.9H1215M1215 1863.5H1239.14M1215 1903.9H1225.34M1239.14 1863.5H1252.07M1257.24 1863.5H1265M1249.48 1885H1260.69M1237.91 1903.9H1239.51M1271.47 1885H1279.22M1265 1903.9H1272.76M1276.48 1903.9H1278.08M1279.22 1885H1293.88" stroke="#2a2af0" stroke-width="4.3" stroke-opacity="0.9" fill="none"/>
<path d="M150.43 1797.1H153.02M165.79 1797.1H167.39M178.02 1797.1H182.33M171.55 1818.2H175.86M180.17 1818.2H181.9M186.21 1818.2H193.97M196.12 1818.2H198.71M241.38 1818.2H252.16M150.43 1839.7H175.86M180.17 1839.7H201.29M209.05 1839.7H243.53M185.19 1861.1H186.79M156.03 1882.6H162.93M173.28 1882.6H179.31M253.45 1861.1H352.16M352.16 1861.1H388.79M388.79 1797.1H431.9M436.21 1839.7H440.52M433.19 1861.1H508.62M513.79 1734.7H518.53M526.72 1734.7H530.17M510.78 1756.2H530.17M530.17 1882.6H585.34M586.21 1861.1H654.31M640 1861.1H720.6M663.71 1882.6H672.33M693.88 1882.6H697.33M663.12 1901.5H664.72M721.9 1839.7H780.09M780.09 1861.1H799.48M808.1 1861.1H838.71M838.71 1882.6H893.02M893.02 1882.6H949.48M935.11 1861.1H936.71M950.34 1839.7H1003.36M1004.22 1818.2H1043.02M1044.31 1861.1H1079.66M1080.52 1882.6H1113.71M1115 1861.1H1126.21M1131.38 1861.1H1148.62M1152.78 1818.2H1154.38M1149.91 1839.7H1180.95M1157.24 1861.1H1158.97M1157.52 1882.6H1159.12M1183.97 1861.1H1215M1217.59 1861.1H1239.14M1263.77 1797.1H1265.37M1240 1839.7H1251.21M1261.55 1839.7H1263.71M1251.21 1861.1H1264.14M1265.86 1882.6H1277.93M1280.09 1861.1H1293.02" stroke="#e8392c" stroke-width="4.3" stroke-opacity="0.86" fill="none"/>
<path d="M150.7 1562.4V1910.5M149.5 1909.4H1294.5" stroke="#000" stroke-width="2.3" fill="none"/>
<path d="M145.1 1902.6H150M145.1 1883.7H150M145.1 1862.2H150M145.1 1840.8H150M145.1 1819.3H150M145.1 1798.2H150M145.1 1776.7H150M145.1 1757.3H150M145.1 1735.8H150M145.1 1714.5H150M145.1 1693.2H150M145.1 1674.6H150M145.1 1652.9H150M145.1 1631.3H150M145.1 1611.9H150M145.1 1589.3H150" stroke="#2a2a2a" stroke-width="1.9" fill="none"/>
<text x="140.8" y="1910.2" font-size="18" font-weight="normal" fill="#3a3a3a" text-anchor="end" stroke="#3a3a3a" stroke-width="0.45">0</text>
<text x="140.8" y="1891.3" font-size="18" font-weight="normal" fill="#3a3a3a" text-anchor="end" stroke="#3a3a3a" stroke-width="0.45">1</text>
<text x="140.8" y="1869.8" font-size="18" font-weight="normal" fill="#3a3a3a" text-anchor="end" stroke="#3a3a3a" stroke-width="0.45">2</text>
<text x="140.8" y="1848.4" font-size="18" font-weight="normal" fill="#3a3a3a" text-anchor="end" stroke="#3a3a3a" stroke-width="0.45">3</text>
<text x="140.8" y="1826.9" font-size="18" font-weight="normal" fill="#3a3a3a" text-anchor="end" stroke="#3a3a3a" stroke-width="0.45">4</text>
<text x="140.8" y="1805.8" font-size="18" font-weight="normal" fill="#3a3a3a" text-anchor="end" stroke="#3a3a3a" stroke-width="0.45">5</text>
<text x="140.8" y="1784.3" font-size="18" font-weight="normal" fill="#3a3a3a" text-anchor="end" stroke="#3a3a3a" stroke-width="0.45">6</text>
<text x="140.8" y="1764.9" font-size="18" font-weight="normal" fill="#3a3a3a" text-anchor="end" stroke="#3a3a3a" stroke-width="0.45">7</text>
<text x="140.8" y="1743.4" font-size="18" font-weight="normal" fill="#3a3a3a" text-anchor="end" stroke="#3a3a3a" stroke-width="0.45">8</text>
<text x="140.8" y="1722.1" font-size="18" font-weight="normal" fill="#3a3a3a" text-anchor="end" stroke="#3a3a3a" stroke-width="0.45">9</text>
<text x="140.8" y="1700.8" font-size="18" font-weight="normal" fill="#3a3a3a" text-anchor="end" stroke="#3a3a3a" stroke-width="0.45">10</text>
<text x="140.8" y="1682.2" font-size="18" font-weight="normal" fill="#3a3a3a" text-anchor="end" stroke="#3a3a3a" stroke-width="0.45">11</text>
<text x="140.8" y="1660.5" font-size="18" font-weight="normal" fill="#3a3a3a" text-anchor="end" stroke="#3a3a3a" stroke-width="0.45">12</text>
<text x="140.8" y="1638.9" font-size="18" font-weight="normal" fill="#3a3a3a" text-anchor="end" stroke="#3a3a3a" stroke-width="0.45">13</text>
<text x="140.8" y="1619.5" font-size="18" font-weight="normal" fill="#3a3a3a" text-anchor="end" stroke="#3a3a3a" stroke-width="0.45">14</text>
<text x="92.5" y="1596.9" font-size="18" font-weight="normal" fill="#3a3a3a" text-anchor="start" textLength="48.3" lengthAdjust="spacingAndGlyphs" stroke="#3a3a3a" stroke-width="0.45">&gt;=15</text>
<text x="201.7" y="1583.8" font-size="22" font-weight="bold" fill="#1a1a1a" text-anchor="middle" stroke="#1a1a1a" stroke-width="0.4" stroke-linejoin="round" >1</text>
<text x="301.7" y="1603.3" font-size="22" font-weight="bold" fill="#1a1a1a" text-anchor="middle" stroke="#1a1a1a" stroke-width="0.4" stroke-linejoin="round" >2</text>
<text x="391.8" y="1583.8" font-size="22" font-weight="bold" fill="#1a1a1a" text-anchor="middle" stroke="#1a1a1a" stroke-width="0.4" stroke-linejoin="round" >3</text>
<text x="472.6" y="1603.3" font-size="22" font-weight="bold" fill="#1a1a1a" text-anchor="middle" stroke="#1a1a1a" stroke-width="0.4" stroke-linejoin="round" >4</text>
<text x="549.3" y="1583.8" font-size="22" font-weight="bold" fill="#1a1a1a" text-anchor="middle" stroke="#1a1a1a" stroke-width="0.4" stroke-linejoin="round" >5</text>
<text x="617.8" y="1603.3" font-size="22" font-weight="bold" fill="#1a1a1a" text-anchor="middle" stroke="#1a1a1a" stroke-width="0.4" stroke-linejoin="round" >6</text>
<text x="688.7" y="1583.8" font-size="22" font-weight="bold" fill="#1a1a1a" text-anchor="middle" stroke="#1a1a1a" stroke-width="0.4" stroke-linejoin="round" >7</text>
<text x="748.6" y="1603.3" font-size="22" font-weight="bold" fill="#1a1a1a" text-anchor="middle" stroke="#1a1a1a" stroke-width="0.4" stroke-linejoin="round" >8</text>
<text x="804.3" y="1583.8" font-size="22" font-weight="bold" fill="#1a1a1a" text-anchor="middle" stroke="#1a1a1a" stroke-width="0.4" stroke-linejoin="round" >9</text>
<text x="863.7" y="1603.3" font-size="22" font-weight="bold" fill="#1a1a1a" text-anchor="middle" stroke="#1a1a1a" stroke-width="0.4" stroke-linejoin="round" >10</text>
<text x="921.9" y="1583.8" font-size="22" font-weight="bold" fill="#1a1a1a" text-anchor="middle" stroke="#1a1a1a" stroke-width="0.4" stroke-linejoin="round" >11</text>
<text x="976.6" y="1603.3" font-size="22" font-weight="bold" fill="#1a1a1a" text-anchor="middle" stroke="#1a1a1a" stroke-width="0.4" stroke-linejoin="round" >12</text>
<text x="1024.5" y="1583.8" font-size="22" font-weight="bold" fill="#1a1a1a" text-anchor="middle" stroke="#1a1a1a" stroke-width="0.4" stroke-linejoin="round" >13</text>
<text x="1061.6" y="1603.3" font-size="22" font-weight="bold" fill="#1a1a1a" text-anchor="middle" stroke="#1a1a1a" stroke-width="0.4" stroke-linejoin="round" >14</text>
<text x="1095.6" y="1583.8" font-size="22" font-weight="bold" fill="#1a1a1a" text-anchor="middle" stroke="#1a1a1a" stroke-width="0.4" stroke-linejoin="round" >15</text>
<text x="1131.3" y="1603.3" font-size="22" font-weight="bold" fill="#1a1a1a" text-anchor="middle" stroke="#1a1a1a" stroke-width="0.4" stroke-linejoin="round" >16</text>
<text x="1168" y="1583.8" font-size="22" font-weight="bold" fill="#1a1a1a" text-anchor="middle" stroke="#1a1a1a" stroke-width="0.4" stroke-linejoin="round" >17</text>
<text x="1200.8" y="1603.3" font-size="22" font-weight="bold" fill="#1a1a1a" text-anchor="middle" stroke="#1a1a1a" stroke-width="0.4" stroke-linejoin="round" >18</text>
<text x="1226.6" y="1583.8" font-size="22" font-weight="bold" fill="#1a1a1a" text-anchor="middle" stroke="#1a1a1a" stroke-width="0.4" stroke-linejoin="round" >19</text>
<text x="1253.3" y="1603.3" font-size="22" font-weight="bold" fill="#1a1a1a" text-anchor="middle" stroke="#1a1a1a" stroke-width="0.4" stroke-linejoin="round" >20</text>
<text x="1275.3" y="1583.8" font-size="22" font-weight="bold" fill="#1a1a1a" text-anchor="middle" stroke="#1a1a1a" stroke-width="0.4" stroke-linejoin="round" >21</text>
<text x="1295.2" y="1603.3" font-size="22" font-weight="bold" fill="#1a1a1a" text-anchor="middle" stroke="#1a1a1a" stroke-width="0.4" stroke-linejoin="round" >22</text>
<text transform="translate(26,1738) rotate(-90)" font-size="32.5" font-weight="bold" fill="#1a1a1a" text-anchor="middle" stroke="#1a1a1a" stroke-width="0.5" stroke-linejoin="round" textLength="266.5" lengthAdjust="spacingAndGlyphs" >SCLC transformed</text>
<text transform="translate(66.5,1738) rotate(-90)" font-size="32.5" font-weight="bold" fill="#1a1a1a" text-anchor="middle" stroke="#1a1a1a" stroke-width="0.5" stroke-linejoin="round" textLength="240.5" lengthAdjust="spacingAndGlyphs" >Liver Metastasis</text>
<text transform="translate(101.1,1742) rotate(-90)" font-size="27.5" font-weight="normal" fill="#1a1a1a" text-anchor="middle" textLength="240" lengthAdjust="spacingAndGlyphs" >Integer copy number</text>
<path d="M252.2 1939.4V2286.4M352.2 1939.4V2286.4M431.9 1939.4V2286.4M509.9 1939.4V2286.4M585.3 1939.4V2286.4M654.2 1939.4V2286.4M720.6 1939.4V2286.4M780.1 1939.4V2286.4M838.7 1939.4V2286.4M893 1939.4V2286.4M949.5 1939.4V2286.4M1004.2 1939.4V2286.4M1043 1939.4V2286.4M1080.5 1939.4V2286.4M1113.7 1939.4V2286.4M1148.6 1939.4V2286.4M1182.2 1939.4V2286.4M1215 1939.4V2286.4M1239.1 1939.4V2286.4M1265 1939.4V2286.4M1279.2 1939.4V2286.4M1293.9 1939.4V2286.4" stroke="#bbbbbb" stroke-width="2.2" stroke-dasharray="5.4 2.1" fill="none"/>
<path d="M209.05 2240.5H252.16M150.43 2262H201.29M292.09 2240.5H293.69M252.16 2262H352.16M400.43 2219.1H402.16M421.98 2240.5H425.86M400.43 2262H402.16M421.83 2262H423.43M352.16 2280.9H424.57M426.72 2280.9H431.9M432.33 2240.5H440.52M437.5 2262H447.41M448.28 2280.9H509.91M509.91 2240.5H530.17M509.54 2262H511.14M530.17 2280.9H585.34M585.34 2262H654.31M640 2262H655.09M666.72 2219.1H670.17M654.22 2240.5H679.66M696.1 2262H697.7M719.59 2262H721.19M679.66 2280.9H720.6M720.6 2280.9H780.09M780.09 2262H799.48M807.24 2262H838.71M838.71 2262H903.79M893.02 2262H949.48M972.76 2219.1H974.48M949.48 2280.9H1004.22M1020.17 2262H1036.55M1004.22 2280.9H1019.31M1035.69 2280.9H1043.02M1043.02 2262H1080.52M1080.52 2280.9H1113.71M1113.71 2280.9H1126.21M1132.24 2280.9H1153.79M1157.52 2219.1H1159.12M1153.79 2262H1189.57M1190.86 2280.9H1215M1215 2240.5H1218.45M1226.21 2240.5H1251.21M1223.9 2262H1225.5M1215 2280.9H1225.34M1257.24 2240.5H1265M1249.48 2262H1260.69M1237.91 2280.9H1239.51M1271.47 2262H1279.22M1265 2280.9H1272.76M1276.48 2280.9H1278.08M1279.22 2262H1293.88" stroke="#2a2af0" stroke-width="4.3" stroke-opacity="0.9" fill="none"/>
<path d="M150.43 2174.1H153.02M165.79 2174.1H167.39M178.02 2174.1H182.33M197.26 2174.1H198.86M171.55 2195.2H175.86M180.17 2195.2H181.9M186.21 2195.2H193.97M150.43 2216.7H175.86M180.17 2216.7H201.29M209.05 2216.7H252.16M185.19 2238.1H186.79M156.03 2259.6H162.93M173.28 2259.6H179.31M253.45 2238.1H352.16M292.09 2216.7H293.69M352.16 2216.7H388.79M390.95 2174.1H431.9M388.79 2195.2H393.1M395.69 2195.2H402.59M421.98 2195.2H428.88M433.19 2238.1H508.62M509.91 2195.2H530.17M558.9 2195.2H560.5M568.1 2195.2H570.26M568.1 2216.7H570.26M530.17 2238.1H585.34M585.34 2238.1H654.31M608.62 2259.6H610.34M640 2238.1H720.6M663.12 2216.7H664.72M668.02 2216.7H671.03M677.93 2216.7H679.66M695.88 2259.6H697.48M720.6 2195.2H780.09M795.17 2195.2H799.48M780.09 2216.7H797.76M807.24 2238.1H838.71M809.4 2259.6H816.72M838.71 2259.6H903.79M902.07 2238.1H949.48M935.11 2216.7H936.71M950.34 2195.2H969.74M998.62 2195.2H1000.34M968.45 2216.7H1003.36M1004.22 2195.2H1043.02M1041.57 2174.1H1043.17M1046.03 2238.1H1079.66M1043.02 2259.6H1048.62M1080.52 2238.1H1112.84M1115 2216.7H1126.21M1131.38 2216.7H1148.62M1155.09 2216.7H1158.97M1149.91 2238.1H1180.95M1157.52 2259.6H1159.12M1183.97 2216.7H1215M1220.6 2195.2H1225.34M1215 2216.7H1225.34M1226.21 2238.1H1238.28M1263.77 2195.2H1265.37M1240 2216.7H1251.21M1261.55 2216.7H1265M1251.21 2238.1H1264.14M1277.99 2174.1H1279.59M1265.86 2216.7H1277.93M1280.09 2259.6H1293.02" stroke="#e8392c" stroke-width="4.3" stroke-opacity="0.86" fill="none"/>
<path d="M150.7 1939.4V2287.5M149.5 2286.4H1294.5" stroke="#000" stroke-width="2.3" fill="none"/>
<path d="M145.1 2279.6H150M145.1 2260.7H150M145.1 2239.2H150M145.1 2217.8H150M145.1 2196.3H150M145.1 2175.2H150M145.1 2153.7H150M145.1 2134.3H150M145.1 2112.8H150M145.1 2091.5H150M145.1 2070.2H150M145.1 2051.6H150M145.1 2029.9H150M145.1 2008.3H150M145.1 1988.9H150M145.1 1966.3H150" stroke="#2a2a2a" stroke-width="1.9" fill="none"/>
<text x="140.8" y="2287.2" font-size="18" font-weight="normal" fill="#3a3a3a" text-anchor="end" stroke="#3a3a3a" stroke-width="0.45">0</text>
<text x="140.8" y="2268.3" font-size="18" font-weight="normal" fill="#3a3a3a" text-anchor="end" stroke="#3a3a3a" stroke-width="0.45">1</text>
<text x="140.8" y="2246.8" font-size="18" font-weight="normal" fill="#3a3a3a" text-anchor="end" stroke="#3a3a3a" stroke-width="0.45">2</text>
<text x="140.8" y="2225.4" font-size="18" font-weight="normal" fill="#3a3a3a" text-anchor="end" stroke="#3a3a3a" stroke-width="0.45">3</text>
<text x="140.8" y="2203.9" font-size="18" font-weight="normal" fill="#3a3a3a" text-anchor="end" stroke="#3a3a3a" stroke-width="0.45">4</text>
<text x="140.8" y="2182.8" font-size="18" font-weight="normal" fill="#3a3a3a" text-anchor="end" stroke="#3a3a3a" stroke-width="0.45">5</text>
<text x="140.8" y="2161.3" font-size="18" font-weight="normal" fill="#3a3a3a" text-anchor="end" stroke="#3a3a3a" stroke-width="0.45">6</text>
<text x="140.8" y="2141.9" font-size="18" font-weight="normal" fill="#3a3a3a" text-anchor="end" stroke="#3a3a3a" stroke-width="0.45">7</text>
<text x="140.8" y="2120.4" font-size="18" font-weight="normal" fill="#3a3a3a" text-anchor="end" stroke="#3a3a3a" stroke-width="0.45">8</text>
<text x="140.8" y="2099.1" font-size="18" font-weight="normal" fill="#3a3a3a" text-anchor="end" stroke="#3a3a3a" stroke-width="0.45">9</text>
<text x="140.8" y="2077.8" font-size="18" font-weight="normal" fill="#3a3a3a" text-anchor="end" stroke="#3a3a3a" stroke-width="0.45">10</text>
<text x="140.8" y="2059.2" font-size="18" font-weight="normal" fill="#3a3a3a" text-anchor="end" stroke="#3a3a3a" stroke-width="0.45">11</text>
<text x="140.8" y="2037.5" font-size="18" font-weight="normal" fill="#3a3a3a" text-anchor="end" stroke="#3a3a3a" stroke-width="0.45">12</text>
<text x="140.8" y="2015.9" font-size="18" font-weight="normal" fill="#3a3a3a" text-anchor="end" stroke="#3a3a3a" stroke-width="0.45">13</text>
<text x="140.8" y="1996.5" font-size="18" font-weight="normal" fill="#3a3a3a" text-anchor="end" stroke="#3a3a3a" stroke-width="0.45">14</text>
<text x="92.5" y="1973.9" font-size="18" font-weight="normal" fill="#3a3a3a" text-anchor="start" textLength="48.3" lengthAdjust="spacingAndGlyphs" stroke="#3a3a3a" stroke-width="0.45">&gt;=15</text>
<text x="201.6" y="1961.1" font-size="22" font-weight="bold" fill="#1a1a1a" text-anchor="middle" stroke="#1a1a1a" stroke-width="0.4" stroke-linejoin="round" >1</text>
<text x="301.6" y="1980.7" font-size="22" font-weight="bold" fill="#1a1a1a" text-anchor="middle" stroke="#1a1a1a" stroke-width="0.4" stroke-linejoin="round" >2</text>
<text x="391.7" y="1961.1" font-size="22" font-weight="bold" fill="#1a1a1a" text-anchor="middle" stroke="#1a1a1a" stroke-width="0.4" stroke-linejoin="round" >3</text>
<text x="472.5" y="1980.7" font-size="22" font-weight="bold" fill="#1a1a1a" text-anchor="middle" stroke="#1a1a1a" stroke-width="0.4" stroke-linejoin="round" >4</text>
<text x="549.2" y="1961.1" font-size="22" font-weight="bold" fill="#1a1a1a" text-anchor="middle" stroke="#1a1a1a" stroke-width="0.4" stroke-linejoin="round" >5</text>
<text x="617.7" y="1980.7" font-size="22" font-weight="bold" fill="#1a1a1a" text-anchor="middle" stroke="#1a1a1a" stroke-width="0.4" stroke-linejoin="round" >6</text>
<text x="688.6" y="1961.1" font-size="22" font-weight="bold" fill="#1a1a1a" text-anchor="middle" stroke="#1a1a1a" stroke-width="0.4" stroke-linejoin="round" >7</text>
<text x="748.5" y="1980.7" font-size="22" font-weight="bold" fill="#1a1a1a" text-anchor="middle" stroke="#1a1a1a" stroke-width="0.4" stroke-linejoin="round" >8</text>
<text x="804.2" y="1961.1" font-size="22" font-weight="bold" fill="#1a1a1a" text-anchor="middle" stroke="#1a1a1a" stroke-width="0.4" stroke-linejoin="round" >9</text>
<text x="863.6" y="1980.7" font-size="22" font-weight="bold" fill="#1a1a1a" text-anchor="middle" stroke="#1a1a1a" stroke-width="0.4" stroke-linejoin="round" >10</text>
<text x="921.8" y="1961.1" font-size="22" font-weight="bold" fill="#1a1a1a" text-anchor="middle" stroke="#1a1a1a" stroke-width="0.4" stroke-linejoin="round" >11</text>
<text x="976.5" y="1980.7" font-size="22" font-weight="bold" fill="#1a1a1a" text-anchor="middle" stroke="#1a1a1a" stroke-width="0.4" stroke-linejoin="round" >12</text>
<text x="1024.4" y="1961.1" font-size="22" font-weight="bold" fill="#1a1a1a" text-anchor="middle" stroke="#1a1a1a" stroke-width="0.4" stroke-linejoin="round" >13</text>
<text x="1061.5" y="1980.7" font-size="22" font-weight="bold" fill="#1a1a1a" text-anchor="middle" stroke="#1a1a1a" stroke-width="0.4" stroke-linejoin="round" >14</text>
<text x="1095.5" y="1961.1" font-size="22" font-weight="bold" fill="#1a1a1a" text-anchor="middle" stroke="#1a1a1a" stroke-width="0.4" stroke-linejoin="round" >15</text>
<text x="1131.2" y="1980.7" font-size="22" font-weight="bold" fill="#1a1a1a" text-anchor="middle" stroke="#1a1a1a" stroke-width="0.4" stroke-linejoin="round" >16</text>
<text x="1167.9" y="1961.1" font-size="22" font-weight="bold" fill="#1a1a1a" text-anchor="middle" stroke="#1a1a1a" stroke-width="0.4" stroke-linejoin="round" >17</text>
<text x="1200.7" y="1980.7" font-size="22" font-weight="bold" fill="#1a1a1a" text-anchor="middle" stroke="#1a1a1a" stroke-width="0.4" stroke-linejoin="round" >18</text>
<text x="1226.5" y="1961.1" font-size="22" font-weight="bold" fill="#1a1a1a" text-anchor="middle" stroke="#1a1a1a" stroke-width="0.4" stroke-linejoin="round" >19</text>
<text x="1253.2" y="1980.7" font-size="22" font-weight="bold" fill="#1a1a1a" text-anchor="middle" stroke="#1a1a1a" stroke-width="0.4" stroke-linejoin="round" >20</text>
<text x="1275.2" y="1961.1" font-size="22" font-weight="bold" fill="#1a1a1a" text-anchor="middle" stroke="#1a1a1a" stroke-width="0.4" stroke-linejoin="round" >21</text>
<text x="1295.1" y="1980.7" font-size="22" font-weight="bold" fill="#1a1a1a" text-anchor="middle" stroke="#1a1a1a" stroke-width="0.4" stroke-linejoin="round" >22</text>
<text transform="translate(58.2,2116) rotate(-90)" font-size="32.5" font-weight="bold" fill="#1a1a1a" text-anchor="middle" stroke="#1a1a1a" stroke-width="0.5" stroke-linejoin="round" textLength="241.5" lengthAdjust="spacingAndGlyphs" >Medistinal Mass</text>
<text transform="translate(101.1,2119) rotate(-90)" font-size="27.5" font-weight="normal" fill="#1a1a1a" text-anchor="middle" textLength="240" lengthAdjust="spacingAndGlyphs" >Integer copy number</text>
<path d="M250.9 2322.3V2667.7M350.9 2322.3V2667.7M432.3 2322.3V2667.7M511.2 2322.3V2667.7M584.9 2322.3V2667.7M656 2322.3V2667.7M720.6 2322.3V2667.7M781 2322.3V2667.7M839.1 2322.3V2667.7M894.7 2322.3V2667.7M950.3 2322.3V2667.7M1005.5 2322.3V2667.7M1044.3 2322.3V2667.7M1080.5 2322.3V2667.7M1114.1 2322.3V2667.7M1152.1 2322.3V2667.7M1184.8 2322.3V2667.7M1216.7 2322.3V2667.7M1240.9 2322.3V2667.7M1267.2 2322.3V2667.7M1281.4 2322.3V2667.7M1295.2 2322.3V2667.7" stroke="#c2c2c2" stroke-width="1.4" stroke-dasharray="4.6 4.2" fill="none"/>
<path d="M207.76 2620.12H250.86M148.71 2641.06H198.28M250.86 2641.06H350.86M420.11 2599.18H421.71M421.12 2620.12H425.43M399.63 2641.06H401.23M424.85 2641.06H426.45M350.86 2662H421.12M425.86 2662H431.9M432.33 2620.12H445.26M446.98 2662H511.21M511.21 2620.12H530.17M531.03 2641.06H584.91M584.91 2641.06H655.6M655.95 2620.12H683.1M640 2641.06H655.09M684.03 2641.06H685.63M695.88 2641.06H697.48M684.4 2662H720.6M720.6 2662H780.95M780.95 2641.06H799.48M808.1 2641.06H839.14M839.14 2641.06H894.74M894.74 2641.06H950.34M974.05 2641.06H977.07M950.34 2662H1020.6M1021.47 2641.06H1037.41M1005.52 2662H1020.6M1036.55 2662H1044.31M1045.17 2641.06H1080.52M1080.52 2641.06H1114.14M1114.14 2641.06H1128.36M1132.67 2641.06H1134.4M1134.4 2662H1155.09M1160.69 2620.12H1184.83M1155.09 2641.06H1160.69M1184.83 2641.06H1190.86M1192.59 2662H1216.72M1228.79 2620.12H1240.86M1216.72 2662H1225.34M1240.86 2620.12H1267.16M1267.16 2662H1272.76M1273.62 2641.06H1295.17" stroke="#617dbd" stroke-width="5.2" stroke-opacity="0.95" fill="none"/>
<path d="M163.79 2576.34H172.41M148.71 2597.28H156.03M178.02 2597.28H198.28M207.76 2597.28H250.86M155.17 2618.22H164.66M171.55 2618.22H177.59M250.86 2618.22H350.86M350.86 2597.28H387.93M388.79 2555.4H431.9M432.33 2618.22H511.21M511.21 2513.52H530.17M531.03 2618.22H584.91M584.91 2618.22H655.6M640 2618.22H720.6M720.6 2597.28H780.95M780.95 2618.22H799.48M808.1 2618.22H839.14M839.14 2639.16H894.74M894.74 2618.22H950.34M950.34 2597.28H1005.52M1005.52 2576.34H1044.31M1045.17 2618.22H1080.52M1080.52 2639.16H1114.14M1115 2618.22H1128.36M1133.53 2618.22H1152.07M1152.07 2597.28H1160.69M1160.69 2618.22H1184.83M1184.83 2618.22H1216.72M1216.72 2618.22H1240.86M1260.69 2597.28H1267.16M1240.86 2618.22H1260.69M1267.16 2618.22H1281.38M1281.38 2618.22H1295.17" stroke="#e2515d" stroke-width="5.2" stroke-opacity="0.95" fill="none"/>
<path d="M148.7 2322.3V2668.4M148 2667.7H1295.5" stroke="#2b2b2b" stroke-width="1.5" fill="none"/>
<path d="M145.3 2661.9H148.7M145.3 2640.96H148.7M145.3 2620.02H148.7M145.3 2599.08H148.7M145.3 2578.14H148.7M145.3 2557.2H148.7M145.3 2536.26H148.7M145.3 2515.32H148.7M145.3 2494.38H148.7M145.3 2473.44H148.7M145.3 2452.5H148.7M145.3 2431.56H148.7M145.3 2410.62H148.7M145.3 2389.68H148.7M145.3 2368.74H148.7M145.3 2347.8H148.7" stroke="#2b2b2b" stroke-width="1.2" fill="none"/>
<text x="142.2" y="2666.1" font-size="20" font-weight="bold" fill="#404040" text-anchor="end" stroke="#404040" stroke-width="0.3" stroke-linejoin="round" >0</text>
<text x="142.2" y="2645.16" font-size="20" font-weight="bold" fill="#404040" text-anchor="end" stroke="#404040" stroke-width="0.3" stroke-linejoin="round" >1</text>
<text x="142.2" y="2624.22" font-size="20" font-weight="bold" fill="#404040" text-anchor="end" stroke="#404040" stroke-width="0.3" stroke-linejoin="round" >2</text>
<text x="142.2" y="2603.28" font-size="20" font-weight="bold" fill="#404040" text-anchor="end" stroke="#404040" stroke-width="0.3" stroke-linejoin="round" >3</text>
<text x="142.2" y="2582.34" font-size="20" font-weight="bold" fill="#404040" text-anchor="end" stroke="#404040" stroke-width="0.3" stroke-linejoin="round" >4</text>
<text x="142.2" y="2561.4" font-size="20" font-weight="bold" fill="#404040" text-anchor="end" stroke="#404040" stroke-width="0.3" stroke-linejoin="round" >5</text>
<text x="142.2" y="2540.46" font-size="20" font-weight="bold" fill="#404040" text-anchor="end" stroke="#404040" stroke-width="0.3" stroke-linejoin="round" >6</text>
<text x="142.2" y="2519.52" font-size="20" font-weight="bold" fill="#404040" text-anchor="end" stroke="#404040" stroke-width="0.3" stroke-linejoin="round" >7</text>
<text x="142.2" y="2498.58" font-size="20" font-weight="bold" fill="#404040" text-anchor="end" stroke="#404040" stroke-width="0.3" stroke-linejoin="round" >8</text>
<text x="142.2" y="2477.64" font-size="20" font-weight="bold" fill="#404040" text-anchor="end" stroke="#404040" stroke-width="0.3" stroke-linejoin="round" >9</text>
<text x="142.2" y="2456.7" font-size="20" font-weight="bold" fill="#404040" text-anchor="end" stroke="#404040" stroke-width="0.3" stroke-linejoin="round" >10</text>
<text x="142.2" y="2435.76" font-size="20" font-weight="bold" fill="#404040" text-anchor="end" stroke="#404040" stroke-width="0.3" stroke-linejoin="round" >11</text>
<text x="142.2" y="2414.82" font-size="20" font-weight="bold" fill="#404040" text-anchor="end" stroke="#404040" stroke-width="0.3" stroke-linejoin="round" >12</text>
<text x="142.2" y="2393.88" font-size="20" font-weight="bold" fill="#404040" text-anchor="end" stroke="#404040" stroke-width="0.3" stroke-linejoin="round" >13</text>
<text x="142.2" y="2372.94" font-size="20" font-weight="bold" fill="#404040" text-anchor="end" stroke="#404040" stroke-width="0.3" stroke-linejoin="round" >14</text>
<text x="92.5" y="2352" font-size="20" font-weight="bold" fill="#404040" text-anchor="start" stroke="#404040" stroke-width="0.3" stroke-linejoin="round" textLength="50" lengthAdjust="spacingAndGlyphs" >&gt;=15</text>
<text x="201.7" y="2340" font-size="22" font-weight="bold" fill="#1a1a1a" text-anchor="middle" stroke="#1a1a1a" stroke-width="0.4" stroke-linejoin="round" >1</text>
<text x="301.7" y="2359.2" font-size="22" font-weight="bold" fill="#1a1a1a" text-anchor="middle" stroke="#1a1a1a" stroke-width="0.4" stroke-linejoin="round" >2</text>
<text x="391.8" y="2340" font-size="22" font-weight="bold" fill="#1a1a1a" text-anchor="middle" stroke="#1a1a1a" stroke-width="0.4" stroke-linejoin="round" >3</text>
<text x="472.6" y="2359.2" font-size="22" font-weight="bold" fill="#1a1a1a" text-anchor="middle" stroke="#1a1a1a" stroke-width="0.4" stroke-linejoin="round" >4</text>
<text x="549.3" y="2340" font-size="22" font-weight="bold" fill="#1a1a1a" text-anchor="middle" stroke="#1a1a1a" stroke-width="0.4" stroke-linejoin="round" >5</text>
<text x="617.8" y="2359.2" font-size="22" font-weight="bold" fill="#1a1a1a" text-anchor="middle" stroke="#1a1a1a" stroke-width="0.4" stroke-linejoin="round" >6</text>
<text x="688.7" y="2340" font-size="22" font-weight="bold" fill="#1a1a1a" text-anchor="middle" stroke="#1a1a1a" stroke-width="0.4" stroke-linejoin="round" >7</text>
<text x="748.6" y="2359.2" font-size="22" font-weight="bold" fill="#1a1a1a" text-anchor="middle" stroke="#1a1a1a" stroke-width="0.4" stroke-linejoin="round" >8</text>
<text x="804.3" y="2340" font-size="22" font-weight="bold" fill="#1a1a1a" text-anchor="middle" stroke="#1a1a1a" stroke-width="0.4" stroke-linejoin="round" >9</text>
<text x="863.7" y="2359.2" font-size="22" font-weight="bold" fill="#1a1a1a" text-anchor="middle" stroke="#1a1a1a" stroke-width="0.4" stroke-linejoin="round" >10</text>
<text x="921.9" y="2340" font-size="22" font-weight="bold" fill="#1a1a1a" text-anchor="middle" stroke="#1a1a1a" stroke-width="0.4" stroke-linejoin="round" >11</text>
<text x="976.6" y="2359.2" font-size="22" font-weight="bold" fill="#1a1a1a" text-anchor="middle" stroke="#1a1a1a" stroke-width="0.4" stroke-linejoin="round" >12</text>
<text x="1024.5" y="2340" font-size="22" font-weight="bold" fill="#1a1a1a" text-anchor="middle" stroke="#1a1a1a" stroke-width="0.4" stroke-linejoin="round" >13</text>
<text x="1061.6" y="2359.2" font-size="22" font-weight="bold" fill="#1a1a1a" text-anchor="middle" stroke="#1a1a1a" stroke-width="0.4" stroke-linejoin="round" >14</text>
<text x="1095.6" y="2340" font-size="22" font-weight="bold" fill="#1a1a1a" text-anchor="middle" stroke="#1a1a1a" stroke-width="0.4" stroke-linejoin="round" >15</text>
<text x="1131.3" y="2359.2" font-size="22" font-weight="bold" fill="#1a1a1a" text-anchor="middle" stroke="#1a1a1a" stroke-width="0.4" stroke-linejoin="round" >16</text>
<text x="1168" y="2340" font-size="22" font-weight="bold" fill="#1a1a1a" text-anchor="middle" stroke="#1a1a1a" stroke-width="0.4" stroke-linejoin="round" >17</text>
<text x="1200.8" y="2359.2" font-size="22" font-weight="bold" fill="#1a1a1a" text-anchor="middle" stroke="#1a1a1a" stroke-width="0.4" stroke-linejoin="round" >18</text>
<text x="1226.6" y="2340" font-size="22" font-weight="bold" fill="#1a1a1a" text-anchor="middle" stroke="#1a1a1a" stroke-width="0.4" stroke-linejoin="round" >19</text>
<text x="1253.3" y="2359.2" font-size="22" font-weight="bold" fill="#1a1a1a" text-anchor="middle" stroke="#1a1a1a" stroke-width="0.4" stroke-linejoin="round" >20</text>
<text x="1275.3" y="2340" font-size="22" font-weight="bold" fill="#1a1a1a" text-anchor="middle" stroke="#1a1a1a" stroke-width="0.4" stroke-linejoin="round" >21</text>
<text x="1295.2" y="2359.2" font-size="22" font-weight="bold" fill="#1a1a1a" text-anchor="middle" stroke="#1a1a1a" stroke-width="0.4" stroke-linejoin="round" >22</text>
<text transform="translate(62.5,2505.7) rotate(-90)" font-size="32.5" font-weight="bold" fill="#1a1a1a" text-anchor="middle" stroke="#1a1a1a" stroke-width="0.5" stroke-linejoin="round" textLength="91" lengthAdjust="spacingAndGlyphs" >MRCA</text>
<text transform="translate(105.4,2505.8) rotate(-90)" font-size="27.5" font-weight="normal" fill="#1a1a1a" text-anchor="middle" textLength="240" lengthAdjust="spacingAndGlyphs" >Integer copy number</text>
<text x="709.3" y="2704.7" font-size="28.5" font-weight="bold" fill="#1a1a1a" text-anchor="middle" stroke="#1a1a1a" stroke-width="0.5" stroke-linejoin="round" textLength="236" lengthAdjust="spacingAndGlyphs" >Genomic Position</text>
<rect x="1308" y="2470.1" width="66.7" height="4.7" fill="#e1211d"/>
<rect x="1308" y="2502.2" width="66.7" height="3.7" fill="#2a4faa"/>
<text x="1379" y="2477.6" font-size="26" font-weight="bold" fill="#1a1a1a" text-anchor="start" stroke="#1a1a1a" stroke-width="0.5" stroke-linejoin="round" textLength="72.6" lengthAdjust="spacingAndGlyphs" >CPN A</text>
<text x="1379.6" y="2511.3" font-size="26" font-weight="bold" fill="#1a1a1a" text-anchor="start" stroke="#1a1a1a" stroke-width="0.5" stroke-linejoin="round" textLength="70.7" lengthAdjust="spacingAndGlyphs" >CPN B</text>
<text x="1376.3" y="388.2" font-size="45.5" font-weight="bold" fill="#1a1a1a" text-anchor="start" stroke="#1a1a1a" stroke-width="0.8" stroke-linejoin="round" textLength="30.5" lengthAdjust="spacingAndGlyphs" >C</text>
<text x="1701" y="400.8" font-size="31.8" font-weight="bold" fill="#1a1a1a" text-anchor="middle" stroke="#1a1a1a" stroke-width="0.5" stroke-linejoin="round" textLength="260" lengthAdjust="spacingAndGlyphs" >RB1 (Chr13) LogR</text>
<g fill="#c3babb"><circle cx="1516.23" cy="552.39" r="3.3"/><circle cx="1549.2" cy="557.89" r="3.3"/><circle cx="1545.91" cy="593.79" r="3.3"/><circle cx="1545.54" cy="601.49" r="3.3"/><circle cx="1542.61" cy="608.08" r="3.3"/><circle cx="1541.88" cy="616.88" r="3.3"/><circle cx="1545.91" cy="618.34" r="3.3"/><circle cx="1545.91" cy="630.43" r="3.3"/><circle cx="1546.27" cy="634.83" r="3.3"/><circle cx="1548.84" cy="638.49" r="3.3"/><circle cx="1548.47" cy="642.16" r="3.3"/><circle cx="1548.1" cy="689.42" r="3.3"/><circle cx="1858.43" cy="509.16" r="3.3"/><circle cx="1858.43" cy="512.09" r="3.3"/><circle cx="1858.43" cy="516.85" r="3.3"/><circle cx="1858.8" cy="526.75" r="3.3"/><circle cx="1858.8" cy="545.8" r="3.3"/><circle cx="1850.73" cy="571.81" r="3.3"/><circle cx="1866.12" cy="588.3" r="3.3"/><circle cx="1863.19" cy="607.35" r="3.3"/><circle cx="1866.12" cy="611.75" r="3.3"/><circle cx="1858.8" cy="620.54" r="3.3"/><circle cx="1867.59" cy="639.96" r="3.3"/><circle cx="1867.59" cy="661.57" r="3.3"/><circle cx="1867.95" cy="664.51" r="3.3"/><circle cx="1867.22" cy="685.39" r="3.3"/><circle cx="1867.59" cy="687.59" r="3.3"/><circle cx="1877.85" cy="547.26" r="3.3"/><circle cx="1877.85" cy="552.03" r="3.3"/><circle cx="1877.85" cy="559.35" r="3.3"/><circle cx="1884.08" cy="564.48" r="3.3"/><circle cx="1883.71" cy="605.52" r="3.3"/><circle cx="1877.85" cy="621.27" r="3.3"/><circle cx="1879.31" cy="629.7" r="3.3"/><circle cx="1883.71" cy="630.43" r="3.3"/><circle cx="1879.31" cy="634.1" r="3.3"/><circle cx="1879.31" cy="640.69" r="3.3"/><circle cx="1879.31" cy="645.09" r="3.3"/><circle cx="1879.31" cy="649.48" r="3.3"/><circle cx="1879.31" cy="657.18" r="3.3"/><circle cx="1880.41" cy="664.51" r="3.3"/><circle cx="1879.31" cy="669.64" r="3.3"/><circle cx="1879.31" cy="672.57" r="3.3"/><circle cx="1880.41" cy="712.87" r="3.3"/><circle cx="1880.41" cy="717.63" r="3.3"/><circle cx="1892.5" cy="443.58" r="3.3"/><circle cx="1892.5" cy="480.95" r="3.3"/><circle cx="1892.5" cy="483.88" r="3.3"/><circle cx="1892.5" cy="488.28" r="3.3"/><circle cx="1892.5" cy="490.47" r="3.3"/><circle cx="1892.14" cy="570.71" r="3.3"/><circle cx="1892.14" cy="577.31" r="3.3"/><circle cx="1892.14" cy="579.14" r="3.3"/><circle cx="1892.14" cy="613.95" r="3.3"/><circle cx="1892.14" cy="617.61" r="3.3"/><circle cx="1892.14" cy="626.04" r="3.3"/><circle cx="1910.09" cy="639.59" r="3.3"/><circle cx="1906.79" cy="665.24" r="3.3"/><circle cx="1906.79" cy="669.64" r="3.3"/><circle cx="1906.79" cy="680.99" r="3.3"/><circle cx="1906.79" cy="706.27" r="3.3"/></g>
<g fill="#e0301e"><circle cx="1608.19" cy="508.43" r="3.3"/><circle cx="1612.22" cy="550.19" r="3.3"/><circle cx="1612.22" cy="552.03" r="3.3"/><circle cx="1611.85" cy="582.8" r="3.3"/><circle cx="1612.22" cy="608.82" r="3.3"/><circle cx="1667.18" cy="615.78" r="3.3"/><circle cx="1658.02" cy="635.93" r="3.3"/><circle cx="1658.02" cy="638.49" r="3.3"/><circle cx="1664.98" cy="664.14" r="3.3"/><circle cx="1664.98" cy="671.1" r="3.3"/><circle cx="1661.68" cy="696.38" r="3.3"/><circle cx="1661.68" cy="706.27" r="3.3"/><circle cx="1661.32" cy="716.53" r="3.3"/><circle cx="1681.47" cy="671.83" r="3.3"/><circle cx="1681.1" cy="678.79" r="3.3"/><circle cx="1687.33" cy="494.51" r="3.3"/><circle cx="1687.33" cy="571.81" r="3.3"/><circle cx="1690.63" cy="580.6" r="3.3"/><circle cx="1690.99" cy="586.47" r="3.3"/><circle cx="1690.99" cy="596.36" r="3.3"/><circle cx="1687.33" cy="599.66" r="3.3"/><circle cx="1698.32" cy="665.24" r="3.3"/><circle cx="1698.32" cy="676.23" r="3.3"/><circle cx="1699.05" cy="682.46" r="3.3"/><circle cx="1698.32" cy="686.12" r="3.3"/><circle cx="1698.32" cy="690.89" r="3.3"/><circle cx="1698.32" cy="695.28" r="3.3"/><circle cx="1703.08" cy="649.85" r="3.3"/><circle cx="1703.45" cy="679.89" r="3.3"/><circle cx="1706.38" cy="581.7" r="3.3"/><circle cx="1707.11" cy="584.27" r="3.3"/><circle cx="1707.11" cy="627.87" r="3.3"/><circle cx="1708.95" cy="661.94" r="3.3"/><circle cx="1708.95" cy="670" r="3.3"/><circle cx="1708.58" cy="673.3" r="3.3"/><circle cx="1707.48" cy="683.56" r="3.3"/><circle cx="1708.58" cy="690.89" r="3.3"/><circle cx="1748.88" cy="523.45" r="3.3"/><circle cx="1748.15" cy="530.78" r="3.3"/><circle cx="1748.15" cy="534.44" r="3.3"/><circle cx="1748.88" cy="538.84" r="3.3"/><circle cx="1748.15" cy="546.9" r="3.3"/><circle cx="1748.88" cy="554.59" r="3.3"/><circle cx="1748.88" cy="597.46" r="3.3"/><circle cx="1748.15" cy="601.12" r="3.3"/><circle cx="1748.88" cy="606.62" r="3.3"/><circle cx="1748.88" cy="623.1" r="3.3"/><circle cx="1748.88" cy="630.8" r="3.3"/><circle cx="1802.37" cy="554.23" r="3.3"/><circle cx="1802.37" cy="558.99" r="3.3"/><circle cx="1818.13" cy="553.49" r="3.3"/><circle cx="1829.12" cy="550.19" r="3.3"/><circle cx="1829.12" cy="554.23" r="3.3"/><circle cx="1829.12" cy="558.62" r="3.3"/><circle cx="1818.13" cy="605.52" r="3.3"/><circle cx="1811.53" cy="669.64" r="3.3"/><circle cx="1811.53" cy="674.4" r="3.3"/><circle cx="1811.53" cy="699.68" r="3.3"/><circle cx="1811.9" cy="711.04" r="3.3"/><circle cx="1833.88" cy="505.13" r="3.3"/><circle cx="1833.52" cy="629.33" r="3.3"/><circle cx="1833.52" cy="634.1" r="3.3"/><circle cx="1833.52" cy="644.35" r="3.3"/><circle cx="1833.52" cy="648.75" r="3.3"/><circle cx="1837.18" cy="662.67" r="3.3"/><circle cx="1837.18" cy="700.04" r="3.3"/><circle cx="1837.18" cy="707.37" r="3.3"/></g>
<path d="M1607.5 432.6V728.6M1840.1 432.6V728.6" stroke="#111" stroke-width="1.5" stroke-dasharray="3.2 3.2" fill="none"/>
<rect x="1500.8" y="432.6" width="425.2" height="296" fill="none" stroke="#383838" stroke-width="1.25"/>
<path d="M1506.7 728.6V737.6M1571.6 728.6V737.6M1636.4 728.6V737.6M1701.6 728.6V737.6M1766.5 728.6V737.6M1831.7 728.6V737.6M1897.3 728.6V737.6M1490.8 433.3H1500.8M1490.8 472.9H1500.8M1490.8 512.5H1500.8M1490.8 552.8H1500.8M1490.8 593H1500.8M1490.8 633.4H1500.8M1490.8 673.3H1500.8M1490.8 713.6H1500.8" stroke="#383838" stroke-width="1.25" fill="none"/>
<text transform="translate(1478.8,433.3) rotate(-90)" font-size="15" font-weight="normal" fill="#3c3c3c" text-anchor="middle" stroke="#3c3c3c" stroke-width="0.25">2.0</text>
<text transform="translate(1478.8,472.9) rotate(-90)" font-size="15" font-weight="normal" fill="#3c3c3c" text-anchor="middle" stroke="#3c3c3c" stroke-width="0.25">1.5</text>
<text transform="translate(1478.8,512.5) rotate(-90)" font-size="15" font-weight="normal" fill="#3c3c3c" text-anchor="middle" stroke="#3c3c3c" stroke-width="0.25">1.0</text>
<text transform="translate(1478.8,552.8) rotate(-90)" font-size="15" font-weight="normal" fill="#3c3c3c" text-anchor="middle" stroke="#3c3c3c" stroke-width="0.25">0.5</text>
<text transform="translate(1478.8,593) rotate(-90)" font-size="15" font-weight="normal" fill="#3c3c3c" text-anchor="middle" stroke="#3c3c3c" stroke-width="0.25">0.0</text>
<text transform="translate(1478.8,633.4) rotate(-90)" font-size="15" font-weight="normal" fill="#3c3c3c" text-anchor="middle" stroke="#3c3c3c" stroke-width="0.25">-0.5</text>
<text transform="translate(1478.8,673.3) rotate(-90)" font-size="15" font-weight="normal" fill="#3c3c3c" text-anchor="middle" stroke="#3c3c3c" stroke-width="0.25">-1.0</text>
<text transform="translate(1478.8,713.6) rotate(-90)" font-size="15" font-weight="normal" fill="#3c3c3c" text-anchor="middle" stroke="#3c3c3c" stroke-width="0.25">-1.5</text>
<text transform="translate(1411.8,573.2) rotate(-90)" font-size="32.5" font-weight="bold" fill="#1a1a1a" text-anchor="middle" stroke="#1a1a1a" stroke-width="0.5" stroke-linejoin="round" textLength="204.5" lengthAdjust="spacingAndGlyphs" >Lung primary</text>
<text transform="translate(1448.2,561.7) rotate(-90)" font-size="29" font-weight="normal" fill="#1a1a1a" text-anchor="middle" textLength="65" lengthAdjust="spacingAndGlyphs" >LogR</text>
<g fill="#c3babb"><circle cx="1518.79" cy="824.96" r="3.3"/><circle cx="1551.77" cy="884.68" r="3.3"/><circle cx="1551.04" cy="887.97" r="3.3"/><circle cx="1544.44" cy="898.97" r="3.3"/><circle cx="1548.84" cy="898.97" r="3.3"/><circle cx="1548.1" cy="904.83" r="3.3"/><circle cx="1548.84" cy="910.32" r="3.3"/><circle cx="1851.83" cy="894.57" r="3.3"/><circle cx="1852.2" cy="896.4" r="3.3"/><circle cx="1860.26" cy="904.46" r="3.3"/><circle cx="1866.86" cy="900.07" r="3.3"/><circle cx="1867.59" cy="906.29" r="3.3"/><circle cx="1868.32" cy="911.06" r="3.3"/><circle cx="1860.26" cy="926.44" r="3.3"/><circle cx="1864.66" cy="946.6" r="3.3"/><circle cx="1881.51" cy="886.51" r="3.3"/><circle cx="1878.58" cy="898.23" r="3.3"/><circle cx="1882.24" cy="898.97" r="3.3"/><circle cx="1885.17" cy="897.5" r="3.3"/><circle cx="1879.31" cy="903.73" r="3.3"/><circle cx="1882.98" cy="902.63" r="3.3"/><circle cx="1879.31" cy="907.39" r="3.3"/><circle cx="1880.05" cy="911.06" r="3.3"/><circle cx="1885.91" cy="901.9" r="3.3"/><circle cx="1893.97" cy="884.31" r="3.3"/><circle cx="1893.24" cy="887.97" r="3.3"/><circle cx="1893.6" cy="895.67" r="3.3"/><circle cx="1907.52" cy="848.77" r="3.3"/><circle cx="1907.52" cy="853.9" r="3.3"/><circle cx="1910.82" cy="900.07" r="3.3"/></g>
<g fill="#e0301e"><circle cx="1610.39" cy="818" r="3.3"/><circle cx="1615.15" cy="879.91" r="3.3"/><circle cx="1614.79" cy="886.88" r="3.3"/><circle cx="1667.18" cy="1039.29" r="3.3"/><circle cx="1660.58" cy="1049.91" r="3.3"/><circle cx="1663.88" cy="1059.44" r="3.3"/><circle cx="1668.64" cy="1066.77" r="3.3"/><circle cx="1683.3" cy="1050.65" r="3.3"/><circle cx="1700.15" cy="1036.73" r="3.3"/><circle cx="1704.92" cy="1036.73" r="3.3"/><circle cx="1708.95" cy="1044.42" r="3.3"/><circle cx="1711.14" cy="1044.79" r="3.3"/><circle cx="1705.28" cy="1054.68" r="3.3"/><circle cx="1693.92" cy="1078.86" r="3.3"/><circle cx="1691.73" cy="1079.59" r="3.3"/><circle cx="1689.16" cy="1091.32" r="3.3"/><circle cx="1748.88" cy="879.91" r="3.3"/><circle cx="1750.35" cy="882.48" r="3.3"/><circle cx="1750.35" cy="885.41" r="3.3"/><circle cx="1750.35" cy="887.97" r="3.3"/><circle cx="1750.35" cy="895.3" r="3.3"/><circle cx="1812.63" cy="896.4" r="3.3"/><circle cx="1813" cy="900.07" r="3.3"/><circle cx="1804.2" cy="908.49" r="3.3"/><circle cx="1803.84" cy="912.16" r="3.3"/><circle cx="1819.96" cy="903.36" r="3.3"/><circle cx="1819.96" cy="909.59" r="3.3"/><circle cx="1829.85" cy="906.29" r="3.3"/><circle cx="1833.52" cy="904.83" r="3.3"/><circle cx="1835.35" cy="896.04" r="3.3"/><circle cx="1838.28" cy="896.4" r="3.3"/><circle cx="1839.01" cy="901.16" r="3.3"/><circle cx="1834.61" cy="910.32" r="3.3"/><circle cx="1830.22" cy="915.82" r="3.3"/><circle cx="1839.01" cy="904.83" r="3.3"/></g>
<path d="M1610 806.6V1102.3M1841.2 806.6V1102.3" stroke="#111" stroke-width="1.5" stroke-dasharray="3.2 3.2" fill="none"/>
<rect x="1503.4" y="806.6" width="423.1" height="295.7" fill="none" stroke="#383838" stroke-width="1.25"/>
<path d="M1509.3 1102.3V1111.3M1574.1 1102.3V1111.3M1638.6 1102.3V1111.3M1703.5 1102.3V1111.3M1768.3 1102.3V1111.3M1833.2 1102.3V1111.3M1898.4 1102.3V1111.3M1493.4 823.1H1503.4M1493.4 875.5H1503.4M1493.4 928.3H1503.4M1493.4 981H1503.4M1493.4 1033.8H1503.4M1493.4 1086.2H1503.4" stroke="#383838" stroke-width="1.25" fill="none"/>
<text transform="translate(1481.4,823.1) rotate(-90)" font-size="15" font-weight="normal" fill="#3c3c3c" text-anchor="middle" stroke="#3c3c3c" stroke-width="0.25">2</text>
<text transform="translate(1481.4,875.5) rotate(-90)" font-size="15" font-weight="normal" fill="#3c3c3c" text-anchor="middle" stroke="#3c3c3c" stroke-width="0.25">1</text>
<text transform="translate(1481.4,928.3) rotate(-90)" font-size="15" font-weight="normal" fill="#3c3c3c" text-anchor="middle" stroke="#3c3c3c" stroke-width="0.25">0</text>
<text transform="translate(1481.4,981) rotate(-90)" font-size="15" font-weight="normal" fill="#3c3c3c" text-anchor="middle" stroke="#3c3c3c" stroke-width="0.25">-1</text>
<text transform="translate(1481.4,1033.8) rotate(-90)" font-size="15" font-weight="normal" fill="#3c3c3c" text-anchor="middle" stroke="#3c3c3c" stroke-width="0.25">-2</text>
<text transform="translate(1481.4,1086.2) rotate(-90)" font-size="15" font-weight="normal" fill="#3c3c3c" text-anchor="middle" stroke="#3c3c3c" stroke-width="0.25">-3</text>
<text transform="translate(1410.5,952.2) rotate(-90)" font-size="32.5" font-weight="bold" fill="#1a1a1a" text-anchor="middle" stroke="#1a1a1a" stroke-width="0.5" stroke-linejoin="round" textLength="280.5" lengthAdjust="spacingAndGlyphs" >Supraclavicular LN</text>
<text transform="translate(1448.2,949.5) rotate(-90)" font-size="29" font-weight="normal" fill="#1a1a1a" text-anchor="middle" textLength="65" lengthAdjust="spacingAndGlyphs" >LogR</text>
<g fill="#c3babb"><circle cx="1518.79" cy="1232.07" r="3.3"/><circle cx="1545.54" cy="1226.94" r="3.3"/><circle cx="1546.64" cy="1229.87" r="3.3"/><circle cx="1551.77" cy="1231.34" r="3.3"/><circle cx="1551.77" cy="1239.03" r="3.3"/><circle cx="1548.84" cy="1244.53" r="3.3"/><circle cx="1548.1" cy="1249.66" r="3.3"/><circle cx="1551.04" cy="1250.75" r="3.3"/><circle cx="1551.4" cy="1261.01" r="3.3"/><circle cx="1854.77" cy="1231.7" r="3.3"/><circle cx="1854.77" cy="1240.86" r="3.3"/><circle cx="1862.09" cy="1205.69" r="3.3"/><circle cx="1862.46" cy="1213.02" r="3.3"/><circle cx="1862.46" cy="1216.68" r="3.3"/><circle cx="1869.79" cy="1193.23" r="3.3"/><circle cx="1867.59" cy="1237.93" r="3.3"/><circle cx="1870.52" cy="1239.03" r="3.3"/><circle cx="1871.25" cy="1242.33" r="3.3"/><circle cx="1871.99" cy="1245.26" r="3.3"/><circle cx="1880.78" cy="1248.19" r="3.3"/><circle cx="1881.88" cy="1267.24" r="3.3"/><circle cx="1881.88" cy="1269.81" r="3.3"/><circle cx="1883.34" cy="1208.62" r="3.3"/><circle cx="1885.91" cy="1209.72" r="3.3"/><circle cx="1887.74" cy="1206.79" r="3.3"/><circle cx="1884.08" cy="1215.95" r="3.3"/><circle cx="1882.24" cy="1226.94" r="3.3"/><circle cx="1885.91" cy="1227.67" r="3.3"/><circle cx="1888.11" cy="1226.94" r="3.3"/><circle cx="1882.24" cy="1231.34" r="3.3"/><circle cx="1885.91" cy="1231.34" r="3.3"/><circle cx="1882.24" cy="1235.37" r="3.3"/><circle cx="1883.71" cy="1239.03" r="3.3"/><circle cx="1882.98" cy="1241.6" r="3.3"/><circle cx="1896.17" cy="1225.84" r="3.3"/><circle cx="1896.53" cy="1231.34" r="3.3"/><circle cx="1896.53" cy="1237.93" r="3.3"/><circle cx="1896.9" cy="1247.82" r="3.3"/><circle cx="1910.09" cy="1218.88" r="3.3"/><circle cx="1910.46" cy="1221.44" r="3.3"/><circle cx="1910.82" cy="1225.84" r="3.3"/><circle cx="1914.12" cy="1236.83" r="3.3"/></g>
<g fill="#e0301e"><circle cx="1611.12" cy="1200.56" r="3.3"/><circle cx="1615.52" cy="1232.44" r="3.3"/><circle cx="1615.15" cy="1243.79" r="3.3"/><circle cx="1664.61" cy="1343.08" r="3.3"/><circle cx="1664.61" cy="1357.01" r="3.3"/><circle cx="1667.91" cy="1377.89" r="3.3"/><circle cx="1670.11" cy="1383.02" r="3.3"/><circle cx="1661.32" cy="1402.44" r="3.3"/><circle cx="1661.68" cy="1413.79" r="3.3"/><circle cx="1684.4" cy="1403.17" r="3.3"/><circle cx="1684.4" cy="1403.9" r="3.3"/><circle cx="1693.92" cy="1390.35" r="3.3"/><circle cx="1694.29" cy="1401.7" r="3.3"/><circle cx="1701.98" cy="1339.79" r="3.3"/><circle cx="1701.98" cy="1342.35" r="3.3"/><circle cx="1701.62" cy="1349.68" r="3.3"/><circle cx="1701.62" cy="1350.78" r="3.3"/><circle cx="1701.62" cy="1395.48" r="3.3"/><circle cx="1706.38" cy="1394.74" r="3.3"/><circle cx="1706.38" cy="1399.14" r="3.3"/><circle cx="1709.31" cy="1374.23" r="3.3"/><circle cx="1710.04" cy="1381.55" r="3.3"/><circle cx="1711.88" cy="1398.04" r="3.3"/><circle cx="1712.24" cy="1400.24" r="3.3"/><circle cx="1710.41" cy="1422.22" r="3.3"/><circle cx="1710.41" cy="1424.42" r="3.3"/><circle cx="1690.63" cy="1431.38" r="3.3"/><circle cx="1693.92" cy="1442.01" r="3.3"/><circle cx="1690.26" cy="1449.33" r="3.3"/><circle cx="1695.02" cy="1454.83" r="3.3"/><circle cx="1690.63" cy="1467.29" r="3.3"/><circle cx="1690.63" cy="1468.38" r="3.3"/><circle cx="1752.54" cy="1229.14" r="3.3"/><circle cx="1752.91" cy="1240.13" r="3.3"/><circle cx="1751.81" cy="1241.6" r="3.3"/><circle cx="1751.81" cy="1244.89" r="3.3"/><circle cx="1752.54" cy="1255.52" r="3.3"/><circle cx="1752.54" cy="1258.82" r="3.3"/><circle cx="1751.08" cy="1263.94" r="3.3"/><circle cx="1751.08" cy="1266.88" r="3.3"/><circle cx="1806.04" cy="1225.47" r="3.3"/><circle cx="1805.67" cy="1259.91" r="3.3"/><circle cx="1814.83" cy="1211.55" r="3.3"/><circle cx="1815.2" cy="1229.87" r="3.3"/><circle cx="1815.2" cy="1235" r="3.3"/><circle cx="1822.16" cy="1216.31" r="3.3"/><circle cx="1822.16" cy="1224.38" r="3.3"/><circle cx="1832.78" cy="1224.01" r="3.3"/><circle cx="1832.42" cy="1236.83" r="3.3"/><circle cx="1832.78" cy="1237.93" r="3.3"/><circle cx="1837.55" cy="1208.25" r="3.3"/><circle cx="1836.81" cy="1241.96" r="3.3"/><circle cx="1837.18" cy="1244.53" r="3.3"/><circle cx="1836.81" cy="1252.95" r="3.3"/><circle cx="1841.58" cy="1226.21" r="3.3"/><circle cx="1841.58" cy="1236.83" r="3.3"/><circle cx="1841.58" cy="1244.16" r="3.3"/></g>
<path d="M1610.4 1182.2V1479M1843.8 1182.2V1479" stroke="#111" stroke-width="1.5" stroke-dasharray="3.2 3.2" fill="none"/>
<rect x="1503" y="1182.2" width="425" height="296.8" fill="none" stroke="#383838" stroke-width="1.25"/>
<path d="M1509.3 1479V1488M1574.5 1479V1488M1639.7 1479V1488M1704.9 1479V1488M1770.1 1479V1488M1835.7 1479V1488M1901 1479V1488M1493 1214.1H1503M1493 1261H1503M1493 1308.6H1503M1493 1355.9H1503M1493 1403.5H1503M1493 1451.2H1503" stroke="#383838" stroke-width="1.25" fill="none"/>
<text transform="translate(1481,1214.1) rotate(-90)" font-size="15" font-weight="normal" fill="#3c3c3c" text-anchor="middle" stroke="#3c3c3c" stroke-width="0.25">0.5</text>
<text transform="translate(1481,1261) rotate(-90)" font-size="15" font-weight="normal" fill="#3c3c3c" text-anchor="middle" stroke="#3c3c3c" stroke-width="0.25">0.0</text>
<text transform="translate(1481,1308.6) rotate(-90)" font-size="15" font-weight="normal" fill="#3c3c3c" text-anchor="middle" stroke="#3c3c3c" stroke-width="0.25">-0.5</text>
<text transform="translate(1481,1355.9) rotate(-90)" font-size="15" font-weight="normal" fill="#3c3c3c" text-anchor="middle" stroke="#3c3c3c" stroke-width="0.25">-1.0</text>
<text transform="translate(1481,1403.5) rotate(-90)" font-size="15" font-weight="normal" fill="#3c3c3c" text-anchor="middle" stroke="#3c3c3c" stroke-width="0.25">-1.5</text>
<text transform="translate(1481,1451.2) rotate(-90)" font-size="15" font-weight="normal" fill="#3c3c3c" text-anchor="middle" stroke="#3c3c3c" stroke-width="0.25">-2.0</text>
<text transform="translate(1414.8,1321.8) rotate(-90)" font-size="32.5" font-weight="bold" fill="#1a1a1a" text-anchor="middle" stroke="#1a1a1a" stroke-width="0.5" stroke-linejoin="round" textLength="144" lengthAdjust="spacingAndGlyphs" >RUL Lung</text>
<text transform="translate(1446,1318.9) rotate(-90)" font-size="29" font-weight="normal" fill="#1a1a1a" text-anchor="middle" textLength="65" lengthAdjust="spacingAndGlyphs" >LogR</text>
<g fill="#c3babb"><circle cx="1519.89" cy="1594.96" r="3.3"/><circle cx="1546.27" cy="1602.28" r="3.3"/><circle cx="1549.57" cy="1607.78" r="3.3"/><circle cx="1553.23" cy="1608.88" r="3.3"/><circle cx="1550.67" cy="1611.44" r="3.3"/><circle cx="1552.5" cy="1614.01" r="3.3"/><circle cx="1853.3" cy="1613.64" r="3.3"/><circle cx="1860.99" cy="1593.13" r="3.3"/><circle cx="1860.99" cy="1600.45" r="3.3"/><circle cx="1868.69" cy="1605.95" r="3.3"/><circle cx="1868.69" cy="1608.88" r="3.3"/><circle cx="1865.76" cy="1612.54" r="3.3"/><circle cx="1870.15" cy="1612.54" r="3.3"/><circle cx="1879.31" cy="1593.86" r="3.3"/><circle cx="1885.91" cy="1594.96" r="3.3"/><circle cx="1880.05" cy="1599.35" r="3.3"/><circle cx="1881.51" cy="1603.02" r="3.3"/><circle cx="1883.71" cy="1604.12" r="3.3"/><circle cx="1886.64" cy="1604.12" r="3.3"/><circle cx="1882.24" cy="1607.78" r="3.3"/><circle cx="1882.61" cy="1610.71" r="3.3"/><circle cx="1894.33" cy="1604.12" r="3.3"/><circle cx="1894.33" cy="1607.78" r="3.3"/><circle cx="1895.43" cy="1615.11" r="3.3"/><circle cx="1895.43" cy="1622.44" r="3.3"/><circle cx="1908.26" cy="1603.02" r="3.3"/><circle cx="1908.62" cy="1605.95" r="3.3"/><circle cx="1912.29" cy="1612.18" r="3.3"/></g>
<g fill="#e0301e"><circle cx="1611.12" cy="1603.02" r="3.3"/><circle cx="1615.88" cy="1615.11" r="3.3"/><circle cx="1661.32" cy="1846.66" r="3.3"/><circle cx="1664.25" cy="1846.66" r="3.3"/><circle cx="1667.18" cy="1846.66" r="3.3"/><circle cx="1670.11" cy="1846.66" r="3.3"/><circle cx="1684.03" cy="1847.03" r="3.3"/><circle cx="1690.63" cy="1866.08" r="3.3"/><circle cx="1692.82" cy="1866.08" r="3.3"/><circle cx="1695.02" cy="1866.08" r="3.3"/><circle cx="1701.25" cy="1803.06" r="3.3"/><circle cx="1705.65" cy="1803.43" r="3.3"/><circle cx="1711.51" cy="1815.52" r="3.3"/><circle cx="1709.68" cy="1817.35" r="3.3"/><circle cx="1751.45" cy="1601.19" r="3.3"/><circle cx="1750.71" cy="1604.12" r="3.3"/><circle cx="1751.45" cy="1607.05" r="3.3"/><circle cx="1751.08" cy="1609.61" r="3.3"/><circle cx="1751.81" cy="1611.44" r="3.3"/><circle cx="1804.94" cy="1618.77" r="3.3"/><circle cx="1804.94" cy="1620.97" r="3.3"/><circle cx="1813.73" cy="1608.88" r="3.3"/><circle cx="1813.36" cy="1610.35" r="3.3"/><circle cx="1821.06" cy="1596.79" r="3.3"/><circle cx="1821.42" cy="1603.02" r="3.3"/><circle cx="1831.68" cy="1596.79" r="3.3"/><circle cx="1834.98" cy="1600.82" r="3.3"/><circle cx="1836.45" cy="1603.38" r="3.3"/><circle cx="1839.74" cy="1607.05" r="3.3"/><circle cx="1830.95" cy="1616.94" r="3.3"/><circle cx="1840.48" cy="1613.28" r="3.3"/><circle cx="1836.45" cy="1622.8" r="3.3"/></g>
<path d="M1611.1 1581.4V1877.1M1842.7 1581.4V1877.1" stroke="#111" stroke-width="1.5" stroke-dasharray="3.2 3.2" fill="none"/>
<rect x="1503.7" y="1581.4" width="425.1" height="295.7" fill="none" stroke="#383838" stroke-width="1.25"/>
<path d="M1510.4 1877.1V1886.1M1575.2 1877.1V1886.1M1640.1 1877.1V1886.1M1704.5 1877.1V1886.1M1769.4 1877.1V1886.1M1834.6 1877.1V1886.1M1899.5 1877.1V1886.1M1493.7 1630.9H1503.7M1493.7 1682.2H1503.7M1493.7 1733.1H1503.7M1493.7 1784.4H1503.7M1493.7 1835.7H1503.7" stroke="#383838" stroke-width="1.25" fill="none"/>
<text transform="translate(1481.7,1630.9) rotate(-90)" font-size="15" font-weight="normal" fill="#3c3c3c" text-anchor="middle" stroke="#3c3c3c" stroke-width="0.25">0</text>
<text transform="translate(1481.7,1682.2) rotate(-90)" font-size="15" font-weight="normal" fill="#3c3c3c" text-anchor="middle" stroke="#3c3c3c" stroke-width="0.25">-1</text>
<text transform="translate(1481.7,1733.1) rotate(-90)" font-size="15" font-weight="normal" fill="#3c3c3c" text-anchor="middle" stroke="#3c3c3c" stroke-width="0.25">-2</text>
<text transform="translate(1481.7,1784.4) rotate(-90)" font-size="15" font-weight="normal" fill="#3c3c3c" text-anchor="middle" stroke="#3c3c3c" stroke-width="0.25">-3</text>
<text transform="translate(1481.7,1835.7) rotate(-90)" font-size="15" font-weight="normal" fill="#3c3c3c" text-anchor="middle" stroke="#3c3c3c" stroke-width="0.25">-4</text>
<text transform="translate(1379.6,1728.3) rotate(-90)" font-size="32.5" font-weight="bold" fill="#1a1a1a" text-anchor="middle" stroke="#1a1a1a" stroke-width="0.5" stroke-linejoin="round" textLength="268" lengthAdjust="spacingAndGlyphs" >SCLC transformed</text>
<text transform="translate(1418.8,1726.5) rotate(-90)" font-size="32.5" font-weight="bold" fill="#1a1a1a" text-anchor="middle" stroke="#1a1a1a" stroke-width="0.5" stroke-linejoin="round" textLength="242" lengthAdjust="spacingAndGlyphs" >Liver Metastasis</text>
<text transform="translate(1453.3,1720.1) rotate(-90)" font-size="29" font-weight="normal" fill="#1a1a1a" text-anchor="middle" textLength="65" lengthAdjust="spacingAndGlyphs" >LogR</text>
<g fill="#c3babb"><circle cx="1519.89" cy="1960.67" r="3.3"/><circle cx="1553.23" cy="2004.27" r="3.3"/><circle cx="1553.6" cy="2009.76" r="3.3"/><circle cx="1546.27" cy="2011.6" r="3.3"/><circle cx="1548.1" cy="2015.99" r="3.3"/><circle cx="1550.3" cy="2018.19" r="3.3"/><circle cx="1551.4" cy="2020.75" r="3.3"/><circle cx="1550.67" cy="2022.59" r="3.3"/><circle cx="1552.5" cy="2024.42" r="3.3"/><circle cx="1853.67" cy="2015.26" r="3.3"/><circle cx="1861.73" cy="2001.7" r="3.3"/><circle cx="1861.73" cy="2005" r="3.3"/><circle cx="1861.73" cy="2017.09" r="3.3"/><circle cx="1866.49" cy="2028.08" r="3.3"/><circle cx="1869.42" cy="2011.6" r="3.3"/><circle cx="1870.15" cy="2014.16" r="3.3"/><circle cx="1870.15" cy="2017.09" r="3.3"/><circle cx="1880.41" cy="2009.4" r="3.3"/><circle cx="1881.14" cy="2012.69" r="3.3"/><circle cx="1882.24" cy="2015.99" r="3.3"/><circle cx="1882.24" cy="2018.92" r="3.3"/><circle cx="1882.98" cy="2021.85" r="3.3"/><circle cx="1883.34" cy="2024.42" r="3.3"/><circle cx="1881.51" cy="2029.18" r="3.3"/><circle cx="1886.27" cy="2000.24" r="3.3"/><circle cx="1886.27" cy="2003.17" r="3.3"/><circle cx="1895.43" cy="1994.01" r="3.3"/><circle cx="1895.8" cy="1996.94" r="3.3"/><circle cx="1894.7" cy="2008.66" r="3.3"/><circle cx="1895.07" cy="2034.31" r="3.3"/><circle cx="1909.36" cy="1990.35" r="3.3"/><circle cx="1908.99" cy="1996.94" r="3.3"/><circle cx="1910.09" cy="1998.04" r="3.3"/><circle cx="1913.02" cy="2028.08" r="3.3"/></g>
<g fill="#e0301e"><circle cx="1611.49" cy="1977.89" r="3.3"/><circle cx="1615.88" cy="2013.06" r="3.3"/><circle cx="1615.88" cy="2017.09" r="3.3"/><circle cx="1664.98" cy="2199.18" r="3.3"/><circle cx="1668.28" cy="2205.04" r="3.3"/><circle cx="1661.68" cy="2214.2" r="3.3"/><circle cx="1670.48" cy="2213.84" r="3.3"/><circle cx="1684.4" cy="2206.51" r="3.3"/><circle cx="1684.4" cy="2210.17" r="3.3"/><circle cx="1693.56" cy="2213.1" r="3.3"/><circle cx="1694.66" cy="2214.94" r="3.3"/><circle cx="1701.62" cy="2216.04" r="3.3"/><circle cx="1701.98" cy="2218.6" r="3.3"/><circle cx="1701.98" cy="2221.17" r="3.3"/><circle cx="1706.38" cy="2208.34" r="3.3"/><circle cx="1710.04" cy="2207.98" r="3.3"/><circle cx="1712.24" cy="2210.54" r="3.3"/><circle cx="1690.63" cy="2233.26" r="3.3"/><circle cx="1690.99" cy="2235.09" r="3.3"/><circle cx="1751.45" cy="2013.79" r="3.3"/><circle cx="1751.81" cy="2015.99" r="3.3"/><circle cx="1751.08" cy="2018.92" r="3.3"/><circle cx="1752.18" cy="2026.25" r="3.3"/><circle cx="1752.18" cy="2035.41" r="3.3"/><circle cx="1752.54" cy="2040.91" r="3.3"/><circle cx="1751.45" cy="2020.75" r="3.3"/><circle cx="1805.3" cy="2005" r="3.3"/><circle cx="1805.67" cy="2006.1" r="3.3"/><circle cx="1814.46" cy="2029.18" r="3.3"/><circle cx="1814.46" cy="2035.78" r="3.3"/><circle cx="1821.06" cy="1991.08" r="3.3"/><circle cx="1821.42" cy="2000.6" r="3.3"/><circle cx="1832.05" cy="1976.06" r="3.3"/><circle cx="1832.05" cy="1996.94" r="3.3"/><circle cx="1832.05" cy="1998.04" r="3.3"/><circle cx="1836.81" cy="2028.08" r="3.3"/><circle cx="1837.55" cy="2031.75" r="3.3"/><circle cx="1836.45" cy="2034.31" r="3.3"/><circle cx="1839.74" cy="2033.58" r="3.3"/><circle cx="1841.58" cy="2034.31" r="3.3"/><circle cx="1836.08" cy="2039.07" r="3.3"/><circle cx="1839.01" cy="2037.24" r="3.3"/></g>
<path d="M1611.1 1949.3V2245M1843 1949.3V2245" stroke="#111" stroke-width="1.5" stroke-dasharray="3.2 3.2" fill="none"/>
<rect x="1503.7" y="1949.3" width="425.1" height="295.7" fill="none" stroke="#383838" stroke-width="1.25"/>
<path d="M1510.4 2245V2254M1575.2 2245V2254M1640.1 2245V2254M1704.5 2245V2254M1769.4 2245V2254M1834.6 2245V2254M1899.5 2245V2254M1493.7 1984.8H1503.7M1493.7 2031.7H1503.7M1493.7 2079.4H1503.7M1493.7 2127H1503.7M1493.7 2174.3H1503.7M1493.7 2221.5H1503.7" stroke="#383838" stroke-width="1.25" fill="none"/>
<text transform="translate(1481.7,1984.8) rotate(-90)" font-size="15" font-weight="normal" fill="#3c3c3c" text-anchor="middle" stroke="#3c3c3c" stroke-width="0.25">1</text>
<text transform="translate(1481.7,2031.7) rotate(-90)" font-size="15" font-weight="normal" fill="#3c3c3c" text-anchor="middle" stroke="#3c3c3c" stroke-width="0.25">0</text>
<text transform="translate(1481.7,2079.4) rotate(-90)" font-size="15" font-weight="normal" fill="#3c3c3c" text-anchor="middle" stroke="#3c3c3c" stroke-width="0.25">-1</text>
<text transform="translate(1481.7,2127) rotate(-90)" font-size="15" font-weight="normal" fill="#3c3c3c" text-anchor="middle" stroke="#3c3c3c" stroke-width="0.25">-2</text>
<text transform="translate(1481.7,2174.3) rotate(-90)" font-size="15" font-weight="normal" fill="#3c3c3c" text-anchor="middle" stroke="#3c3c3c" stroke-width="0.25">-3</text>
<text transform="translate(1481.7,2221.5) rotate(-90)" font-size="15" font-weight="normal" fill="#3c3c3c" text-anchor="middle" stroke="#3c3c3c" stroke-width="0.25">-4</text>
<text transform="translate(1418.8,2104.6) rotate(-90)" font-size="32.5" font-weight="bold" fill="#1a1a1a" text-anchor="middle" stroke="#1a1a1a" stroke-width="0.5" stroke-linejoin="round" textLength="243" lengthAdjust="spacingAndGlyphs" >Medistinal Mass</text>
<text transform="translate(1453.3,2090) rotate(-90)" font-size="29" font-weight="normal" fill="#1a1a1a" text-anchor="middle" textLength="65" lengthAdjust="spacingAndGlyphs" >LogR</text>
<text x="1510.4" y="2278.7" font-size="15.6" font-weight="normal" fill="#3c3c3c" text-anchor="middle" textLength="66.5" lengthAdjust="spacingAndGlyphs" stroke="#3c3c3c" stroke-width="0.25">48800000</text>
<text x="1640.1" y="2278.7" font-size="15.6" font-weight="normal" fill="#3c3c3c" text-anchor="middle" textLength="66.5" lengthAdjust="spacingAndGlyphs" stroke="#3c3c3c" stroke-width="0.25">48900000</text>
<text x="1769.4" y="2278.7" font-size="15.6" font-weight="normal" fill="#3c3c3c" text-anchor="middle" textLength="66.5" lengthAdjust="spacingAndGlyphs" stroke="#3c3c3c" stroke-width="0.25">49000000</text>
<text x="1899.5" y="2278.7" font-size="15.6" font-weight="normal" fill="#3c3c3c" text-anchor="middle" textLength="66.5" lengthAdjust="spacingAndGlyphs" stroke="#3c3c3c" stroke-width="0.25">49100000</text>
<text x="1722.8" y="2314.7" font-size="28.5" font-weight="bold" fill="#1a1a1a" text-anchor="middle" stroke="#1a1a1a" stroke-width="0.5" stroke-linejoin="round" textLength="236.7" lengthAdjust="spacingAndGlyphs" >Genomic Position</text>
</svg>
</body></html>
